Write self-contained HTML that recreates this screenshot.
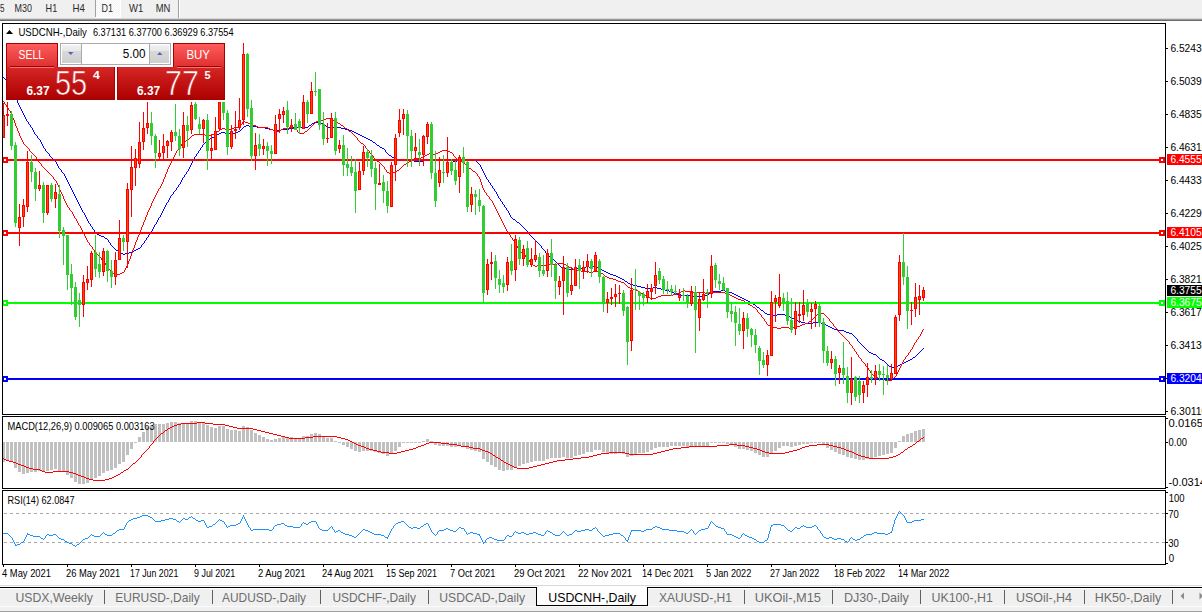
<!DOCTYPE html>
<html><head><meta charset="utf-8"><title>MT4 USDCNH Daily</title>
<style>
html,body{margin:0;padding:0;background:#fff;width:1202px;height:613px;overflow:hidden}
svg{display:block;font-family:"Liberation Sans",sans-serif}
.c{shape-rendering:crispEdges}
</style></head><body>
<svg width="1202" height="613" viewBox="0 0 1202 613">
<defs>
<linearGradient id="gTop" x1="0" y1="0" x2="0" y2="1"><stop offset="0" stop-color="#ff5c5c"/><stop offset="1" stop-color="#de2f2f"/></linearGradient>
<linearGradient id="gBot" x1="0" y1="0" x2="0" y2="1"><stop offset="0" stop-color="#d62626"/><stop offset="1" stop-color="#ad0000"/></linearGradient>
<linearGradient id="gBotU" gradientUnits="userSpaceOnUse" x1="0" y1="67" x2="0" y2="99"><stop offset="0" stop-color="#d62626"/><stop offset="1" stop-color="#ad0000"/></linearGradient>
<linearGradient id="gBtn" x1="0" y1="0" x2="0" y2="1"><stop offset="0" stop-color="#f2f2f2"/><stop offset="0.35" stop-color="#e6e6e6"/><stop offset="0.36" stop-color="#d8d8d8"/><stop offset="1" stop-color="#cfcfcf"/></linearGradient>
<pattern id="dots" width="2" height="2" patternUnits="userSpaceOnUse"><rect width="2" height="2" fill="#f4f4f4"/><rect width="1" height="1" fill="#ffffff"/><rect x="1" y="1" width="1" height="1" fill="#ffffff"/></pattern>
<clipPath id="clipMain"><rect x="3" y="24" width="1162" height="390"/></clipPath>
<clipPath id="clipMacd"><rect x="3" y="417" width="1162" height="71"/></clipPath>
<clipPath id="clipRsi"><rect x="3" y="491" width="1162" height="73"/></clipPath>
</defs>

<g class="c">
<rect x="0" y="0" width="1202" height="19" fill="#f0f0f0"/>
<rect x="0" y="18" width="1202" height="1" fill="#d6d6d6"/>
<rect x="0" y="19" width="1202" height="1" fill="#999999"/>
<rect x="0" y="20" width="1202" height="1" fill="#6c6c6c"/>
<rect x="96" y="0" width="24" height="17" fill="url(#dots)"/><rect x="95" y="17" width="26" height="1" fill="#fff"/><rect x="120" y="0" width="1" height="17" fill="#fff"/>
<rect x="95" y="0" width="1" height="17" fill="#a0a0a0"/>
<rect x="178" y="0" width="1" height="18" fill="#a0a0a0"/><rect x="179" y="0" width="1" height="18" fill="#ffffff"/>
</g>
<text x="0" y="11.6" font-size="10.2" fill="#2a2a2a" font-weight="400" text-anchor="start" textLength="4.5" lengthAdjust="spacingAndGlyphs" >5</text>
<text x="14.6" y="11.6" font-size="10.2" fill="#2a2a2a" font-weight="400" text-anchor="start" textLength="17.4" lengthAdjust="spacingAndGlyphs" >M30</text>
<text x="45.6" y="11.6" font-size="10.2" fill="#2a2a2a" font-weight="400" text-anchor="start" textLength="11.6" lengthAdjust="spacingAndGlyphs" >H1</text>
<text x="72.6" y="11.6" font-size="10.2" fill="#2a2a2a" font-weight="400" text-anchor="start" textLength="12.4" lengthAdjust="spacingAndGlyphs" >H4</text>
<text x="101.6" y="11.6" font-size="10.2" fill="#2a2a2a" font-weight="400" text-anchor="start" textLength="11.4" lengthAdjust="spacingAndGlyphs" >D1</text>
<text x="129" y="11.6" font-size="10.2" fill="#2a2a2a" font-weight="400" text-anchor="start" textLength="14.2" lengthAdjust="spacingAndGlyphs" >W1</text>
<text x="155.7" y="11.6" font-size="10.2" fill="#2a2a2a" font-weight="400" text-anchor="start" textLength="14.6" lengthAdjust="spacingAndGlyphs" >MN</text>
<g class="c" fill="none" stroke="#000" stroke-width="1">
<rect x="2.5" y="23.5" width="1163" height="391"/>
<rect x="2.5" y="416.5" width="1163" height="72"/>
<rect x="2.5" y="490.5" width="1163" height="74"/>
</g>
<g class="c">
<rect x="1166" y="48" width="2" height="1" fill="#000"/>
<rect x="1166" y="81" width="2" height="1" fill="#000"/>
<rect x="1166" y="114" width="2" height="1" fill="#000"/>
<rect x="1166" y="147" width="2" height="1" fill="#000"/>
<rect x="1166" y="180" width="2" height="1" fill="#000"/>
<rect x="1166" y="213" width="2" height="1" fill="#000"/>
<rect x="1166" y="246" width="2" height="1" fill="#000"/>
<rect x="1166" y="279" width="2" height="1" fill="#000"/>
<rect x="1166" y="312" width="2" height="1" fill="#000"/>
<rect x="1166" y="345" width="2" height="1" fill="#000"/>
<rect x="1166" y="378" width="2" height="1" fill="#000"/>
<rect x="1166" y="411" width="2" height="1" fill="#000"/>
</g>
<text x="1170.4" y="52" font-size="10.1" fill="#000" font-weight="400" text-anchor="start" textLength="37" lengthAdjust="spacingAndGlyphs" >6.52430</text>
<text x="1170.4" y="85" font-size="10.1" fill="#000" font-weight="400" text-anchor="start" textLength="37" lengthAdjust="spacingAndGlyphs" >6.50390</text>
<text x="1170.4" y="118" font-size="10.1" fill="#000" font-weight="400" text-anchor="start" textLength="37" lengthAdjust="spacingAndGlyphs" >6.48350</text>
<text x="1170.4" y="151" font-size="10.1" fill="#000" font-weight="400" text-anchor="start" textLength="37" lengthAdjust="spacingAndGlyphs" >6.46310</text>
<text x="1170.4" y="184" font-size="10.1" fill="#000" font-weight="400" text-anchor="start" textLength="37" lengthAdjust="spacingAndGlyphs" >6.44330</text>
<text x="1170.4" y="217" font-size="10.1" fill="#000" font-weight="400" text-anchor="start" textLength="37" lengthAdjust="spacingAndGlyphs" >6.42290</text>
<text x="1170.4" y="250" font-size="10.1" fill="#000" font-weight="400" text-anchor="start" textLength="37" lengthAdjust="spacingAndGlyphs" >6.40250</text>
<text x="1170.4" y="283" font-size="10.1" fill="#000" font-weight="400" text-anchor="start" textLength="37" lengthAdjust="spacingAndGlyphs" >6.38210</text>
<text x="1170.4" y="316" font-size="10.1" fill="#000" font-weight="400" text-anchor="start" textLength="37" lengthAdjust="spacingAndGlyphs" >6.36170</text>
<text x="1170.4" y="349" font-size="10.1" fill="#000" font-weight="400" text-anchor="start" textLength="37" lengthAdjust="spacingAndGlyphs" >6.34130</text>
<text x="1170.4" y="382" font-size="10.1" fill="#000" font-weight="400" text-anchor="start" textLength="37" lengthAdjust="spacingAndGlyphs" >6.32090</text>
<text x="1170.4" y="415" font-size="10.1" fill="#000" font-weight="400" text-anchor="start" textLength="37" lengthAdjust="spacingAndGlyphs" >6.30110</text>
<g clip-path="url(#clipMain)">
<path class="c" fill="#0000ff" d="M3 77h1v1h-1zM4 78h1v1h-1zM5 79h1v1h-1zM6 80h1v1h-1zM7 81h1v1h-1zM8 82h1v2h-1zM9 84h1v1h-1zM10 85h1v2h-1zM11 87h1v2h-1zM12 89h1v2h-1zM13 91h1v2h-1zM14 93h1v2h-1zM15 95h1v3h-1zM16 98h1v2h-1zM17 100h1v3h-1zM18 103h1v2h-1zM19 105h1v2h-1zM20 107h1v2h-1zM21 109h1v2h-1zM22 111h1v2h-1zM23 113h1v2h-1zM24 115h1v2h-1zM25 117h1v2h-1zM26 119h1v2h-1zM27 121h1v1h-1zM28 122h1v2h-1zM29 124h1v1h-1zM30 125h1v2h-1zM31 127h1v1h-1zM32 128h1v2h-1zM33 130h1v2h-1zM34 132h1v2h-1zM35 134h1v1h-1zM36 135h1v1h-1zM37 136h1v2h-1zM38 138h1v1h-1zM39 139h1v1h-1zM40 140h1v2h-1zM41 142h1v2h-1zM42 144h1v2h-1zM43 146h1v2h-1zM44 148h1v1h-1zM45 149h1v2h-1zM46 151h1v1h-1zM47 152h1v1h-1zM48 153h1v1h-1zM49 154h1v2h-1zM50 156h1v1h-1zM51 157h1v1h-1zM52 158h1v1h-1zM53 159h1v1h-1zM54 160h1v1h-1zM55 161h1v1h-1zM56 162h1v2h-1zM57 164h1v2h-1zM58 166h1v2h-1zM59 168h1v1h-1zM60 169h1v1h-1zM61 170h1v2h-1zM62 172h1v1h-1zM63 173h1v1h-1zM64 174h1v2h-1zM65 176h1v2h-1zM66 178h1v2h-1zM67 180h1v2h-1zM68 182h1v2h-1zM69 184h1v2h-1zM70 186h1v2h-1zM71 188h1v2h-1zM72 190h1v2h-1zM73 192h1v2h-1zM74 194h1v2h-1zM75 196h1v2h-1zM76 198h1v2h-1zM77 200h1v2h-1zM78 202h1v2h-1zM79 204h1v2h-1zM80 206h1v2h-1zM81 208h1v2h-1zM82 210h1v2h-1zM83 212h1v1h-1zM84 213h1v2h-1zM85 215h1v2h-1zM86 217h1v2h-1zM87 219h1v2h-1zM88 221h1v2h-1zM89 223h1v1h-1zM90 224h1v2h-1zM91 226h1v1h-1zM92 227h1v2h-1zM93 229h1v1h-1zM94 230h1v2h-1zM95 232h1v1h-1zM96 233h1v1h-1zM97 234h1v1h-1zM98 234h1v1h-1zM99 235h1v1h-1zM100 235h1v1h-1zM101 236h1v1h-1zM102 236h1v1h-1zM103 236h1v1h-1zM104 237h1v1h-1zM105 238h1v1h-1zM106 238h1v1h-1zM107 239h1v1h-1zM108 240h1v2h-1zM109 242h1v1h-1zM110 243h1v2h-1zM111 245h1v1h-1zM112 246h1v1h-1zM113 247h1v1h-1zM114 248h1v1h-1zM115 249h1v1h-1zM116 250h1v1h-1zM117 250h1v1h-1zM118 251h1v1h-1zM119 251h1v1h-1zM120 252h1v1h-1zM121 253h1v1h-1zM122 253h1v1h-1zM123 254h1v1h-1zM124 254h1v1h-1zM125 253h1v1h-1zM126 253h1v1h-1zM127 253h1v1h-1zM128 253h1v1h-1zM129 252h1v1h-1zM130 252h1v1h-1zM131 252h1v1h-1zM132 251h1v1h-1zM133 251h1v1h-1zM134 250h1v1h-1zM135 250h1v1h-1zM136 249h1v1h-1zM137 249h1v1h-1zM138 248h1v1h-1zM139 248h1v1h-1zM140 247h1v1h-1zM141 245h1v2h-1zM142 244h1v1h-1zM143 243h1v1h-1zM144 241h1v2h-1zM145 240h1v1h-1zM146 238h1v2h-1zM147 237h1v1h-1zM148 235h1v2h-1zM149 234h1v1h-1zM150 232h1v2h-1zM151 231h1v1h-1zM152 229h1v2h-1zM153 227h1v2h-1zM154 225h1v2h-1zM155 224h1v1h-1zM156 222h1v2h-1zM157 220h1v2h-1zM158 218h1v2h-1zM159 217h1v1h-1zM160 215h1v2h-1zM161 213h1v2h-1zM162 211h1v2h-1zM163 209h1v2h-1zM164 207h1v2h-1zM165 205h1v2h-1zM166 203h1v2h-1zM167 202h1v1h-1zM168 200h1v2h-1zM169 198h1v2h-1zM170 196h1v2h-1zM171 195h1v1h-1zM172 194h1v1h-1zM173 192h1v2h-1zM174 191h1v1h-1zM175 190h1v1h-1zM176 188h1v2h-1zM177 187h1v1h-1zM178 185h1v2h-1zM179 184h1v1h-1zM180 182h1v2h-1zM181 180h1v2h-1zM182 178h1v2h-1zM183 177h1v1h-1zM184 175h1v2h-1zM185 174h1v1h-1zM186 172h1v2h-1zM187 171h1v1h-1zM188 169h1v2h-1zM189 167h1v2h-1zM190 165h1v2h-1zM191 163h1v2h-1zM192 161h1v2h-1zM193 159h1v2h-1zM194 157h1v2h-1zM195 156h1v1h-1zM196 154h1v2h-1zM197 153h1v1h-1zM198 151h1v2h-1zM199 150h1v1h-1zM200 148h1v2h-1zM201 147h1v1h-1zM202 145h1v2h-1zM203 144h1v1h-1zM204 143h1v1h-1zM205 142h1v1h-1zM206 141h1v1h-1zM207 140h1v1h-1zM208 139h1v1h-1zM209 139h1v1h-1zM210 138h1v1h-1zM211 138h1v1h-1zM212 137h1v1h-1zM213 137h1v1h-1zM214 136h1v1h-1zM215 136h1v1h-1zM216 135h1v1h-1zM217 134h1v1h-1zM218 134h1v1h-1zM219 133h1v1h-1zM220 133h1v1h-1zM221 132h1v1h-1zM222 132h1v1h-1zM223 132h1v1h-1zM224 132h1v1h-1zM225 133h1v1h-1zM226 133h1v1h-1zM227 133h1v1h-1zM228 133h1v1h-1zM229 133h1v1h-1zM230 133h1v1h-1zM231 133h1v1h-1zM232 133h1v1h-1zM233 133h1v1h-1zM234 133h1v1h-1zM235 133h1v1h-1zM236 132h1v1h-1zM237 132h1v1h-1zM238 131h1v1h-1zM239 131h1v1h-1zM240 130h1v1h-1zM241 129h1v1h-1zM242 128h1v1h-1zM243 127h1v1h-1zM244 126h1v1h-1zM245 126h1v1h-1zM246 125h1v1h-1zM247 125h1v1h-1zM248 125h1v1h-1zM249 126h1v1h-1zM250 126h1v1h-1zM251 126h1v1h-1zM252 126h1v1h-1zM253 126h1v1h-1zM254 126h1v1h-1zM255 126h1v1h-1zM256 126h1v1h-1zM257 127h1v1h-1zM258 127h1v1h-1zM259 127h1v1h-1zM260 127h1v1h-1zM261 127h1v1h-1zM262 127h1v1h-1zM263 127h1v1h-1zM264 127h1v1h-1zM265 128h1v1h-1zM266 128h1v1h-1zM267 128h1v1h-1zM268 128h1v1h-1zM269 129h1v1h-1zM270 129h1v1h-1zM271 129h1v1h-1zM272 129h1v1h-1zM273 130h1v1h-1zM274 130h1v1h-1zM275 130h1v1h-1zM276 130h1v1h-1zM277 130h1v1h-1zM278 130h1v1h-1zM279 130h1v1h-1zM280 130h1v1h-1zM281 129h1v1h-1zM282 129h1v1h-1zM283 129h1v1h-1zM284 129h1v1h-1zM285 129h1v1h-1zM286 129h1v1h-1zM287 129h1v1h-1zM288 129h1v1h-1zM289 128h1v1h-1zM290 128h1v1h-1zM291 128h1v1h-1zM292 128h1v1h-1zM293 127h1v1h-1zM294 127h1v1h-1zM295 127h1v1h-1zM296 127h1v1h-1zM297 127h1v1h-1zM298 127h1v1h-1zM299 127h1v1h-1zM300 127h1v1h-1zM301 127h1v1h-1zM302 127h1v1h-1zM303 127h1v1h-1zM304 127h1v1h-1zM305 127h1v1h-1zM306 127h1v1h-1zM307 127h1v1h-1zM308 126h1v1h-1zM309 125h1v1h-1zM310 125h1v1h-1zM311 124h1v1h-1zM312 123h1v1h-1zM313 123h1v1h-1zM314 122h1v1h-1zM315 122h1v1h-1zM316 122h1v1h-1zM317 122h1v1h-1zM318 122h1v1h-1zM319 122h1v1h-1zM320 122h1v1h-1zM321 123h1v1h-1zM322 123h1v1h-1zM323 123h1v1h-1zM324 124h1v1h-1zM325 125h1v1h-1zM326 126h1v1h-1zM327 127h1v1h-1zM328 127h1v1h-1zM329 127h1v1h-1zM330 127h1v1h-1zM331 127h1v1h-1zM332 127h1v1h-1zM333 127h1v1h-1zM334 127h1v1h-1zM335 127h1v1h-1zM336 127h1v1h-1zM337 127h1v1h-1zM338 127h1v1h-1zM339 127h1v1h-1zM340 127h1v1h-1zM341 128h1v1h-1zM342 128h1v1h-1zM343 128h1v1h-1zM344 128h1v1h-1zM345 129h1v1h-1zM346 129h1v1h-1zM347 129h1v1h-1zM348 129h1v1h-1zM349 130h1v1h-1zM350 130h1v1h-1zM351 130h1v1h-1zM352 131h1v1h-1zM353 131h1v1h-1zM354 132h1v1h-1zM355 132h1v1h-1zM356 133h1v1h-1zM357 133h1v1h-1zM358 134h1v1h-1zM359 134h1v1h-1zM360 135h1v1h-1zM361 135h1v1h-1zM362 136h1v1h-1zM363 136h1v1h-1zM364 137h1v1h-1zM365 137h1v1h-1zM366 138h1v1h-1zM367 138h1v1h-1zM368 139h1v1h-1zM369 139h1v1h-1zM370 140h1v1h-1zM371 140h1v1h-1zM372 141h1v1h-1zM373 142h1v1h-1zM374 142h1v1h-1zM375 143h1v1h-1zM376 144h1v1h-1zM377 145h1v1h-1zM378 145h1v1h-1zM379 146h1v1h-1zM380 147h1v1h-1zM381 147h1v1h-1zM382 148h1v1h-1zM383 148h1v1h-1zM384 149h1v1h-1zM385 150h1v2h-1zM386 152h1v1h-1zM387 153h1v1h-1zM388 154h1v1h-1zM389 155h1v1h-1zM390 155h1v1h-1zM391 156h1v1h-1zM392 157h1v1h-1zM393 157h1v1h-1zM394 158h1v1h-1zM395 158h1v1h-1zM396 158h1v1h-1zM397 159h1v1h-1zM398 159h1v1h-1zM399 159h1v1h-1zM400 159h1v1h-1zM401 159h1v1h-1zM402 159h1v1h-1zM403 159h1v1h-1zM404 159h1v1h-1zM405 159h1v1h-1zM406 159h1v1h-1zM407 159h1v1h-1zM408 159h1v1h-1zM409 159h1v1h-1zM410 159h1v1h-1zM411 159h1v1h-1zM412 160h1v1h-1zM413 160h1v1h-1zM414 161h1v1h-1zM415 161h1v1h-1zM416 161h1v1h-1zM417 161h1v1h-1zM418 161h1v1h-1zM419 161h1v1h-1zM420 161h1v1h-1zM421 161h1v1h-1zM422 161h1v1h-1zM423 161h1v1h-1zM424 160h1v1h-1zM425 160h1v1h-1zM426 159h1v1h-1zM427 159h1v1h-1zM428 159h1v1h-1zM429 159h1v1h-1zM430 159h1v1h-1zM431 159h1v1h-1zM432 159h1v1h-1zM433 160h1v1h-1zM434 160h1v1h-1zM435 160h1v1h-1zM436 160h1v1h-1zM437 159h1v1h-1zM438 159h1v1h-1zM439 159h1v1h-1zM440 159h1v1h-1zM441 159h1v1h-1zM442 159h1v1h-1zM443 159h1v1h-1zM444 159h1v1h-1zM445 160h1v1h-1zM446 160h1v1h-1zM447 160h1v1h-1zM448 160h1v1h-1zM449 160h1v1h-1zM450 160h1v1h-1zM451 160h1v1h-1zM452 160h1v1h-1zM453 161h1v1h-1zM454 161h1v1h-1zM455 161h1v1h-1zM456 161h1v1h-1zM457 160h1v1h-1zM458 160h1v1h-1zM459 160h1v1h-1zM460 160h1v1h-1zM461 159h1v1h-1zM462 159h1v1h-1zM463 159h1v1h-1zM464 159h1v1h-1zM465 159h1v1h-1zM466 159h1v1h-1zM467 159h1v1h-1zM468 159h1v1h-1zM469 159h1v1h-1zM470 159h1v1h-1zM471 159h1v1h-1zM472 159h1v1h-1zM473 160h1v1h-1zM474 160h1v1h-1zM475 160h1v1h-1zM476 161h1v1h-1zM477 162h1v1h-1zM478 163h1v1h-1zM479 164h1v1h-1zM480 165h1v2h-1zM481 167h1v2h-1zM482 169h1v2h-1zM483 171h1v2h-1zM484 173h1v2h-1zM485 175h1v2h-1zM486 177h1v2h-1zM487 179h1v1h-1zM488 180h1v2h-1zM489 182h1v1h-1zM490 183h1v2h-1zM491 185h1v1h-1zM492 186h1v2h-1zM493 188h1v1h-1zM494 189h1v2h-1zM495 191h1v1h-1zM496 192h1v2h-1zM497 194h1v2h-1zM498 196h1v2h-1zM499 198h1v1h-1zM500 199h1v2h-1zM501 201h1v1h-1zM502 202h1v2h-1zM503 204h1v1h-1zM504 205h1v2h-1zM505 207h1v1h-1zM506 208h1v2h-1zM507 210h1v1h-1zM508 211h1v2h-1zM509 213h1v2h-1zM510 215h1v2h-1zM511 217h1v1h-1zM512 218h1v1h-1zM513 219h1v1h-1zM514 219h1v1h-1zM515 220h1v1h-1zM516 221h1v1h-1zM517 222h1v1h-1zM518 222h1v1h-1zM519 223h1v1h-1zM520 224h1v1h-1zM521 225h1v1h-1zM522 226h1v1h-1zM523 227h1v1h-1zM524 228h1v1h-1zM525 229h1v1h-1zM526 230h1v1h-1zM527 231h1v1h-1zM528 232h1v1h-1zM529 233h1v2h-1zM530 235h1v1h-1zM531 236h1v1h-1zM532 237h1v1h-1zM533 238h1v1h-1zM534 239h1v1h-1zM535 240h1v1h-1zM536 241h1v1h-1zM537 242h1v1h-1zM538 243h1v1h-1zM539 244h1v1h-1zM540 245h1v1h-1zM541 246h1v2h-1zM542 248h1v1h-1zM543 249h1v1h-1zM544 250h1v1h-1zM545 251h1v2h-1zM546 253h1v1h-1zM547 254h1v1h-1zM548 255h1v1h-1zM549 256h1v1h-1zM550 256h1v1h-1zM551 257h1v1h-1zM552 258h1v1h-1zM553 259h1v1h-1zM554 260h1v1h-1zM555 261h1v1h-1zM556 262h1v1h-1zM557 263h1v1h-1zM558 264h1v1h-1zM559 265h1v1h-1zM560 266h1v1h-1zM561 267h1v1h-1zM562 267h1v1h-1zM563 268h1v1h-1zM564 268h1v1h-1zM565 268h1v1h-1zM566 268h1v1h-1zM567 268h1v1h-1zM568 268h1v1h-1zM569 269h1v1h-1zM570 269h1v1h-1zM571 269h1v1h-1zM572 269h1v1h-1zM573 269h1v1h-1zM574 269h1v1h-1zM575 269h1v1h-1zM576 269h1v1h-1zM577 268h1v1h-1zM578 268h1v1h-1zM579 268h1v1h-1zM580 268h1v1h-1zM581 268h1v1h-1zM582 268h1v1h-1zM583 268h1v1h-1zM584 267h1v1h-1zM585 267h1v1h-1zM586 266h1v1h-1zM587 266h1v1h-1zM588 266h1v1h-1zM589 267h1v1h-1zM590 267h1v1h-1zM591 267h1v1h-1zM592 267h1v1h-1zM593 266h1v1h-1zM594 266h1v1h-1zM595 266h1v1h-1zM596 267h1v1h-1zM597 267h1v1h-1zM598 268h1v1h-1zM599 268h1v1h-1zM600 269h1v1h-1zM601 269h1v1h-1zM602 270h1v1h-1zM603 270h1v1h-1zM604 271h1v1h-1zM605 271h1v1h-1zM606 272h1v1h-1zM607 272h1v1h-1zM608 273h1v1h-1zM609 273h1v1h-1zM610 274h1v1h-1zM611 274h1v1h-1zM612 274h1v1h-1zM613 275h1v1h-1zM614 275h1v1h-1zM615 275h1v1h-1zM616 276h1v1h-1zM617 276h1v1h-1zM618 277h1v1h-1zM619 277h1v1h-1zM620 278h1v1h-1zM621 278h1v1h-1zM622 279h1v1h-1zM623 279h1v1h-1zM624 280h1v1h-1zM625 281h1v1h-1zM626 281h1v1h-1zM627 282h1v1h-1zM628 283h1v1h-1zM629 283h1v1h-1zM630 284h1v1h-1zM631 284h1v1h-1zM632 284h1v1h-1zM633 285h1v1h-1zM634 285h1v1h-1zM635 285h1v1h-1zM636 285h1v1h-1zM637 286h1v1h-1zM638 286h1v1h-1zM639 286h1v1h-1zM640 286h1v1h-1zM641 287h1v1h-1zM642 287h1v1h-1zM643 287h1v1h-1zM644 287h1v1h-1zM645 288h1v1h-1zM646 288h1v1h-1zM647 288h1v1h-1zM648 288h1v1h-1zM649 288h1v1h-1zM650 288h1v1h-1zM651 288h1v1h-1zM652 288h1v1h-1zM653 287h1v1h-1zM654 287h1v1h-1zM655 287h1v1h-1zM656 287h1v1h-1zM657 288h1v1h-1zM658 288h1v1h-1zM659 288h1v1h-1zM660 288h1v1h-1zM661 289h1v1h-1zM662 289h1v1h-1zM663 289h1v1h-1zM664 289h1v1h-1zM665 290h1v1h-1zM666 290h1v1h-1zM667 290h1v1h-1zM668 290h1v1h-1zM669 291h1v1h-1zM670 291h1v1h-1zM671 291h1v1h-1zM672 292h1v1h-1zM673 292h1v1h-1zM674 293h1v1h-1zM675 293h1v1h-1zM676 293h1v1h-1zM677 294h1v1h-1zM678 294h1v1h-1zM679 294h1v1h-1zM680 294h1v1h-1zM681 295h1v1h-1zM682 295h1v1h-1zM683 295h1v1h-1zM684 295h1v1h-1zM685 295h1v1h-1zM686 295h1v1h-1zM687 295h1v1h-1zM688 295h1v1h-1zM689 295h1v1h-1zM690 295h1v1h-1zM691 295h1v1h-1zM692 295h1v1h-1zM693 296h1v1h-1zM694 296h1v1h-1zM695 296h1v1h-1zM696 296h1v1h-1zM697 296h1v1h-1zM698 296h1v1h-1zM699 296h1v1h-1zM700 296h1v1h-1zM701 296h1v1h-1zM702 296h1v1h-1zM703 296h1v1h-1zM704 296h1v1h-1zM705 295h1v1h-1zM706 295h1v1h-1zM707 295h1v1h-1zM708 294h1v1h-1zM709 293h1v1h-1zM710 292h1v1h-1zM711 291h1v1h-1zM712 291h1v1h-1zM713 291h1v1h-1zM714 291h1v1h-1zM715 291h1v1h-1zM716 291h1v1h-1zM717 291h1v1h-1zM718 291h1v1h-1zM719 291h1v1h-1zM720 291h1v1h-1zM721 290h1v1h-1zM722 290h1v1h-1zM723 290h1v1h-1zM724 290h1v1h-1zM725 291h1v1h-1zM726 291h1v1h-1zM727 291h1v1h-1zM728 291h1v1h-1zM729 292h1v1h-1zM730 292h1v1h-1zM731 292h1v1h-1zM732 293h1v1h-1zM733 293h1v1h-1zM734 294h1v1h-1zM735 294h1v1h-1zM736 295h1v1h-1zM737 295h1v1h-1zM738 296h1v1h-1zM739 296h1v1h-1zM740 297h1v1h-1zM741 297h1v1h-1zM742 298h1v1h-1zM743 298h1v1h-1zM744 299h1v1h-1zM745 299h1v1h-1zM746 300h1v1h-1zM747 300h1v1h-1zM748 301h1v1h-1zM749 301h1v1h-1zM750 302h1v1h-1zM751 302h1v1h-1zM752 303h1v1h-1zM753 304h1v1h-1zM754 304h1v1h-1zM755 305h1v1h-1zM756 306h1v1h-1zM757 307h1v1h-1zM758 307h1v1h-1zM759 308h1v1h-1zM760 309h1v1h-1zM761 310h1v1h-1zM762 310h1v1h-1zM763 311h1v1h-1zM764 312h1v1h-1zM765 313h1v1h-1zM766 313h1v1h-1zM767 314h1v1h-1zM768 314h1v1h-1zM769 314h1v1h-1zM770 314h1v1h-1zM771 314h1v1h-1zM772 314h1v1h-1zM773 315h1v1h-1zM774 315h1v1h-1zM775 315h1v1h-1zM776 315h1v1h-1zM777 314h1v1h-1zM778 314h1v1h-1zM779 314h1v1h-1zM780 314h1v1h-1zM781 314h1v1h-1zM782 314h1v1h-1zM783 314h1v1h-1zM784 314h1v1h-1zM785 315h1v1h-1zM786 315h1v1h-1zM787 315h1v1h-1zM788 316h1v1h-1zM789 316h1v1h-1zM790 317h1v1h-1zM791 317h1v1h-1zM792 318h1v1h-1zM793 318h1v1h-1zM794 319h1v1h-1zM795 319h1v1h-1zM796 320h1v1h-1zM797 320h1v1h-1zM798 321h1v1h-1zM799 321h1v1h-1zM800 321h1v1h-1zM801 322h1v1h-1zM802 322h1v1h-1zM803 322h1v1h-1zM804 322h1v1h-1zM805 323h1v1h-1zM806 323h1v1h-1zM807 323h1v1h-1zM808 323h1v1h-1zM809 323h1v1h-1zM810 323h1v1h-1zM811 323h1v1h-1zM812 323h1v1h-1zM813 322h1v1h-1zM814 322h1v1h-1zM815 322h1v1h-1zM816 322h1v1h-1zM817 322h1v1h-1zM818 322h1v1h-1zM819 322h1v1h-1zM820 322h1v1h-1zM821 323h1v1h-1zM822 323h1v1h-1zM823 323h1v1h-1zM824 324h1v1h-1zM825 324h1v1h-1zM826 325h1v1h-1zM827 325h1v1h-1zM828 326h1v1h-1zM829 326h1v1h-1zM830 327h1v1h-1zM831 327h1v1h-1zM832 328h1v1h-1zM833 328h1v1h-1zM834 329h1v1h-1zM835 329h1v1h-1zM836 329h1v1h-1zM837 330h1v1h-1zM838 330h1v1h-1zM839 330h1v1h-1zM840 330h1v1h-1zM841 330h1v1h-1zM842 330h1v1h-1zM843 330h1v1h-1zM844 331h1v1h-1zM845 331h1v1h-1zM846 332h1v1h-1zM847 332h1v1h-1zM848 332h1v1h-1zM849 333h1v1h-1zM850 333h1v1h-1zM851 333h1v1h-1zM852 334h1v1h-1zM853 335h1v1h-1zM854 336h1v1h-1zM855 337h1v1h-1zM856 338h1v1h-1zM857 339h1v2h-1zM858 341h1v1h-1zM859 342h1v1h-1zM860 343h1v1h-1zM861 344h1v1h-1zM862 345h1v1h-1zM863 346h1v1h-1zM864 347h1v1h-1zM865 348h1v1h-1zM866 349h1v1h-1zM867 350h1v1h-1zM868 351h1v1h-1zM869 352h1v1h-1zM870 352h1v1h-1zM871 353h1v1h-1zM872 353h1v1h-1zM873 354h1v1h-1zM874 354h1v1h-1zM875 354h1v1h-1zM876 355h1v1h-1zM877 356h1v1h-1zM878 357h1v1h-1zM879 358h1v1h-1zM880 359h1v1h-1zM881 359h1v1h-1zM882 360h1v1h-1zM883 360h1v1h-1zM884 361h1v1h-1zM885 362h1v1h-1zM886 363h1v1h-1zM887 364h1v1h-1zM888 365h1v1h-1zM889 366h1v1h-1zM890 366h1v1h-1zM891 367h1v1h-1zM892 367h1v1h-1zM893 367h1v1h-1zM894 367h1v1h-1zM895 367h1v1h-1zM896 366h1v1h-1zM897 366h1v1h-1zM898 365h1v1h-1zM899 365h1v1h-1zM900 364h1v1h-1zM901 364h1v1h-1zM902 363h1v1h-1zM903 363h1v1h-1zM904 362h1v1h-1zM905 362h1v1h-1zM906 361h1v1h-1zM907 361h1v1h-1zM908 360h1v1h-1zM909 360h1v1h-1zM910 359h1v1h-1zM911 359h1v1h-1zM912 358h1v1h-1zM913 357h1v1h-1zM914 357h1v1h-1zM915 356h1v1h-1zM916 355h1v1h-1zM917 354h1v1h-1zM918 353h1v1h-1zM919 352h1v1h-1zM920 351h1v1h-1zM921 350h1v1h-1zM922 349h1v1h-1zM923 348h1v1h-1z"/>
<path class="c" fill="#ff0000" d="M3 101h1v1h-1zM4 102h1v2h-1zM5 104h1v1h-1zM6 105h1v2h-1zM7 107h1v1h-1zM8 108h1v2h-1zM9 110h1v1h-1zM10 111h1v2h-1zM11 113h1v2h-1zM12 115h1v3h-1zM13 118h1v2h-1zM14 120h1v3h-1zM15 123h1v3h-1zM16 126h1v2h-1zM17 128h1v3h-1zM18 131h1v2h-1zM19 133h1v3h-1zM20 136h1v2h-1zM21 138h1v2h-1zM22 140h1v2h-1zM23 142h1v2h-1zM24 144h1v1h-1zM25 145h1v1h-1zM26 146h1v1h-1zM27 147h1v1h-1zM28 148h1v1h-1zM29 149h1v2h-1zM30 151h1v1h-1zM31 152h1v1h-1zM32 153h1v1h-1zM33 154h1v1h-1zM34 155h1v1h-1zM35 156h1v1h-1zM36 157h1v2h-1zM37 159h1v1h-1zM38 160h1v2h-1zM39 162h1v1h-1zM40 163h1v1h-1zM41 164h1v2h-1zM42 166h1v1h-1zM43 167h1v1h-1zM44 168h1v1h-1zM45 169h1v1h-1zM46 170h1v1h-1zM47 171h1v1h-1zM48 172h1v1h-1zM49 173h1v1h-1zM50 174h1v1h-1zM51 175h1v1h-1zM52 176h1v1h-1zM53 177h1v2h-1zM54 179h1v1h-1zM55 180h1v1h-1zM56 181h1v2h-1zM57 183h1v2h-1zM58 185h1v2h-1zM59 187h1v3h-1zM60 190h1v2h-1zM61 192h1v2h-1zM62 194h1v2h-1zM63 196h1v3h-1zM64 199h1v2h-1zM65 201h1v2h-1zM66 203h1v2h-1zM67 205h1v2h-1zM68 207h1v1h-1zM69 208h1v2h-1zM70 210h1v1h-1zM71 211h1v1h-1zM72 212h1v2h-1zM73 214h1v2h-1zM74 216h1v2h-1zM75 218h1v1h-1zM76 219h1v2h-1zM77 221h1v2h-1zM78 223h1v2h-1zM79 225h1v1h-1zM80 226h1v2h-1zM81 228h1v2h-1zM82 230h1v2h-1zM83 232h1v2h-1zM84 234h1v2h-1zM85 236h1v2h-1zM86 238h1v2h-1zM87 240h1v2h-1zM88 242h1v1h-1zM89 243h1v2h-1zM90 245h1v1h-1zM91 246h1v1h-1zM92 247h1v2h-1zM93 249h1v1h-1zM94 250h1v2h-1zM95 252h1v1h-1zM96 253h1v1h-1zM97 254h1v1h-1zM98 255h1v1h-1zM99 256h1v1h-1zM100 257h1v1h-1zM101 258h1v2h-1zM102 260h1v1h-1zM103 261h1v1h-1zM104 262h1v1h-1zM105 263h1v2h-1zM106 265h1v1h-1zM107 266h1v1h-1zM108 267h1v2h-1zM109 269h1v1h-1zM110 270h1v2h-1zM111 272h1v1h-1zM112 273h1v1h-1zM113 273h1v1h-1zM114 274h1v1h-1zM115 274h1v1h-1zM116 274h1v1h-1zM117 274h1v1h-1zM118 274h1v1h-1zM119 274h1v1h-1zM120 273h1v1h-1zM121 273h1v1h-1zM122 272h1v1h-1zM123 272h1v1h-1zM124 270h1v2h-1zM125 268h1v2h-1zM126 266h1v2h-1zM127 264h1v2h-1zM128 261h1v3h-1zM129 259h1v2h-1zM130 256h1v3h-1zM131 253h1v3h-1zM132 250h1v3h-1zM133 248h1v2h-1zM134 245h1v3h-1zM135 242h1v3h-1zM136 240h1v2h-1zM137 237h1v3h-1zM138 235h1v2h-1zM139 232h1v3h-1zM140 230h1v2h-1zM141 227h1v3h-1zM142 225h1v2h-1zM143 222h1v3h-1zM144 220h1v2h-1zM145 217h1v3h-1zM146 215h1v2h-1zM147 212h1v3h-1zM148 210h1v2h-1zM149 208h1v2h-1zM150 206h1v2h-1zM151 203h1v3h-1zM152 201h1v2h-1zM153 199h1v2h-1zM154 197h1v2h-1zM155 195h1v2h-1zM156 193h1v2h-1zM157 191h1v2h-1zM158 189h1v2h-1zM159 188h1v1h-1zM160 186h1v2h-1zM161 184h1v2h-1zM162 182h1v2h-1zM163 179h1v3h-1zM164 177h1v2h-1zM165 174h1v3h-1zM166 172h1v2h-1zM167 169h1v3h-1zM168 167h1v2h-1zM169 165h1v2h-1zM170 163h1v2h-1zM171 161h1v2h-1zM172 159h1v2h-1zM173 157h1v2h-1zM174 155h1v2h-1zM175 153h1v2h-1zM176 151h1v2h-1zM177 150h1v1h-1zM178 148h1v2h-1zM179 147h1v1h-1zM180 146h1v1h-1zM181 144h1v2h-1zM182 143h1v1h-1zM183 142h1v1h-1zM184 141h1v1h-1zM185 141h1v1h-1zM186 140h1v1h-1zM187 140h1v1h-1zM188 139h1v1h-1zM189 138h1v1h-1zM190 137h1v1h-1zM191 136h1v1h-1zM192 135h1v1h-1zM193 135h1v1h-1zM194 134h1v1h-1zM195 134h1v1h-1zM196 134h1v1h-1zM197 134h1v1h-1zM198 134h1v1h-1zM199 134h1v1h-1zM200 134h1v1h-1zM201 134h1v1h-1zM202 134h1v1h-1zM203 134h1v1h-1zM204 134h1v1h-1zM205 135h1v1h-1zM206 135h1v1h-1zM207 135h1v1h-1zM208 135h1v1h-1zM209 135h1v1h-1zM210 135h1v1h-1zM211 135h1v1h-1zM212 134h1v1h-1zM213 134h1v1h-1zM214 133h1v1h-1zM215 133h1v1h-1zM216 132h1v1h-1zM217 131h1v1h-1zM218 131h1v1h-1zM219 130h1v1h-1zM220 129h1v1h-1zM221 129h1v1h-1zM222 128h1v1h-1zM223 128h1v1h-1zM224 128h1v1h-1zM225 129h1v1h-1zM226 129h1v1h-1zM227 129h1v1h-1zM228 129h1v1h-1zM229 129h1v1h-1zM230 129h1v1h-1zM231 129h1v1h-1zM232 128h1v1h-1zM233 128h1v1h-1zM234 127h1v1h-1zM235 127h1v1h-1zM236 127h1v1h-1zM237 127h1v1h-1zM238 127h1v1h-1zM239 127h1v1h-1zM240 125h1v2h-1zM241 124h1v1h-1zM242 122h1v2h-1zM243 121h1v1h-1zM244 121h1v1h-1zM245 122h1v1h-1zM246 122h1v1h-1zM247 122h1v1h-1zM248 123h1v1h-1zM249 123h1v1h-1zM250 124h1v1h-1zM251 124h1v1h-1zM252 124h1v1h-1zM253 125h1v1h-1zM254 125h1v1h-1zM255 125h1v1h-1zM256 126h1v1h-1zM257 126h1v1h-1zM258 127h1v1h-1zM259 127h1v1h-1zM260 127h1v1h-1zM261 127h1v1h-1zM262 127h1v1h-1zM263 127h1v1h-1zM264 127h1v1h-1zM265 127h1v1h-1zM266 127h1v1h-1zM267 127h1v1h-1zM268 128h1v1h-1zM269 128h1v1h-1zM270 129h1v1h-1zM271 129h1v1h-1zM272 129h1v1h-1zM273 130h1v1h-1zM274 130h1v1h-1zM275 130h1v1h-1zM276 130h1v1h-1zM277 131h1v1h-1zM278 131h1v1h-1zM279 131h1v1h-1zM280 130h1v1h-1zM281 129h1v1h-1zM282 129h1v1h-1zM283 128h1v1h-1zM284 128h1v1h-1zM285 128h1v1h-1zM286 128h1v1h-1zM287 128h1v1h-1zM288 128h1v1h-1zM289 127h1v1h-1zM290 127h1v1h-1zM291 127h1v1h-1zM292 127h1v1h-1zM293 128h1v1h-1zM294 128h1v1h-1zM295 128h1v1h-1zM296 129h1v1h-1zM297 130h1v2h-1zM298 132h1v1h-1zM299 133h1v1h-1zM300 133h1v1h-1zM301 133h1v1h-1zM302 133h1v1h-1zM303 133h1v1h-1zM304 132h1v1h-1zM305 131h1v1h-1zM306 131h1v1h-1zM307 130h1v1h-1zM308 129h1v1h-1zM309 128h1v1h-1zM310 127h1v1h-1zM311 126h1v1h-1zM312 125h1v1h-1zM313 124h1v1h-1zM314 123h1v1h-1zM315 122h1v1h-1zM316 121h1v1h-1zM317 121h1v1h-1zM318 120h1v1h-1zM319 120h1v1h-1zM320 120h1v1h-1zM321 120h1v1h-1zM322 120h1v1h-1zM323 120h1v1h-1zM324 119h1v1h-1zM325 119h1v1h-1zM326 118h1v1h-1zM327 118h1v1h-1zM328 118h1v1h-1zM329 118h1v1h-1zM330 118h1v1h-1zM331 118h1v1h-1zM332 119h1v1h-1zM333 120h1v1h-1zM334 120h1v1h-1zM335 121h1v1h-1zM336 122h1v1h-1zM337 122h1v1h-1zM338 123h1v1h-1zM339 123h1v1h-1zM340 124h1v1h-1zM341 125h1v1h-1zM342 125h1v1h-1zM343 126h1v1h-1zM344 127h1v1h-1zM345 128h1v1h-1zM346 128h1v1h-1zM347 129h1v1h-1zM348 130h1v1h-1zM349 131h1v1h-1zM350 131h1v1h-1zM351 132h1v1h-1zM352 133h1v1h-1zM353 134h1v1h-1zM354 135h1v1h-1zM355 136h1v1h-1zM356 137h1v1h-1zM357 138h1v2h-1zM358 140h1v1h-1zM359 141h1v1h-1zM360 142h1v1h-1zM361 143h1v1h-1zM362 143h1v1h-1zM363 144h1v1h-1zM364 145h1v1h-1zM365 146h1v2h-1zM366 148h1v1h-1zM367 149h1v1h-1zM368 150h1v1h-1zM369 151h1v2h-1zM370 153h1v1h-1zM371 154h1v1h-1zM372 155h1v1h-1zM373 156h1v2h-1zM374 158h1v1h-1zM375 159h1v1h-1zM376 160h1v1h-1zM377 161h1v1h-1zM378 161h1v1h-1zM379 162h1v1h-1zM380 163h1v1h-1zM381 164h1v1h-1zM382 165h1v1h-1zM383 166h1v1h-1zM384 167h1v2h-1zM385 169h1v1h-1zM386 170h1v2h-1zM387 172h1v1h-1zM388 172h1v1h-1zM389 173h1v1h-1zM390 173h1v1h-1zM391 173h1v1h-1zM392 173h1v1h-1zM393 172h1v1h-1zM394 172h1v1h-1zM395 172h1v1h-1zM396 171h1v1h-1zM397 170h1v1h-1zM398 170h1v1h-1zM399 169h1v1h-1zM400 168h1v1h-1zM401 167h1v1h-1zM402 166h1v1h-1zM403 165h1v1h-1zM404 164h1v1h-1zM405 164h1v1h-1zM406 163h1v1h-1zM407 163h1v1h-1zM408 162h1v1h-1zM409 161h1v1h-1zM410 161h1v1h-1zM411 160h1v1h-1zM412 159h1v1h-1zM413 159h1v1h-1zM414 158h1v1h-1zM415 158h1v1h-1zM416 158h1v1h-1zM417 158h1v1h-1zM418 158h1v1h-1zM419 158h1v1h-1zM420 158h1v1h-1zM421 157h1v1h-1zM422 157h1v1h-1zM423 157h1v1h-1zM424 156h1v1h-1zM425 155h1v1h-1zM426 155h1v1h-1zM427 154h1v1h-1zM428 154h1v1h-1zM429 153h1v1h-1zM430 153h1v1h-1zM431 153h1v1h-1zM432 153h1v1h-1zM433 154h1v1h-1zM434 154h1v1h-1zM435 154h1v1h-1zM436 153h1v1h-1zM437 153h1v1h-1zM438 152h1v1h-1zM439 152h1v1h-1zM440 151h1v1h-1zM441 151h1v1h-1zM442 150h1v1h-1zM443 150h1v1h-1zM444 150h1v1h-1zM445 150h1v1h-1zM446 150h1v1h-1zM447 150h1v1h-1zM448 151h1v1h-1zM449 151h1v1h-1zM450 152h1v1h-1zM451 152h1v1h-1zM452 153h1v1h-1zM453 154h1v2h-1zM454 156h1v1h-1zM455 157h1v1h-1zM456 158h1v1h-1zM457 159h1v1h-1zM458 159h1v1h-1zM459 160h1v1h-1zM460 161h1v1h-1zM461 161h1v1h-1zM462 162h1v1h-1zM463 162h1v1h-1zM464 163h1v1h-1zM465 164h1v1h-1zM466 165h1v1h-1zM467 166h1v1h-1zM468 167h1v1h-1zM469 168h1v1h-1zM470 168h1v1h-1zM471 169h1v1h-1zM472 170h1v1h-1zM473 171h1v1h-1zM474 171h1v1h-1zM475 172h1v1h-1zM476 173h1v1h-1zM477 174h1v2h-1zM478 176h1v1h-1zM479 177h1v2h-1zM480 179h1v3h-1zM481 182h1v3h-1zM482 185h1v3h-1zM483 188h1v2h-1zM484 190h1v2h-1zM485 192h1v1h-1zM486 193h1v2h-1zM487 195h1v1h-1zM488 196h1v1h-1zM489 197h1v2h-1zM490 199h1v1h-1zM491 200h1v1h-1zM492 201h1v2h-1zM493 203h1v2h-1zM494 205h1v2h-1zM495 207h1v2h-1zM496 209h1v2h-1zM497 211h1v2h-1zM498 213h1v2h-1zM499 215h1v2h-1zM500 217h1v2h-1zM501 219h1v2h-1zM502 221h1v2h-1zM503 223h1v2h-1zM504 225h1v2h-1zM505 227h1v2h-1zM506 229h1v2h-1zM507 231h1v1h-1zM508 232h1v2h-1zM509 234h1v1h-1zM510 235h1v2h-1zM511 237h1v1h-1zM512 238h1v2h-1zM513 240h1v1h-1zM514 241h1v2h-1zM515 243h1v1h-1zM516 244h1v2h-1zM517 246h1v2h-1zM518 248h1v2h-1zM519 250h1v1h-1zM520 251h1v1h-1zM521 252h1v1h-1zM522 252h1v1h-1zM523 253h1v1h-1zM524 254h1v1h-1zM525 255h1v2h-1zM526 257h1v1h-1zM527 258h1v1h-1zM528 259h1v1h-1zM529 260h1v2h-1zM530 262h1v1h-1zM531 263h1v1h-1zM532 264h1v1h-1zM533 265h1v1h-1zM534 265h1v1h-1zM535 266h1v1h-1zM536 266h1v1h-1zM537 265h1v1h-1zM538 265h1v1h-1zM539 265h1v1h-1zM540 265h1v1h-1zM541 265h1v1h-1zM542 265h1v1h-1zM543 265h1v1h-1zM544 265h1v1h-1zM545 265h1v1h-1zM546 265h1v1h-1zM547 265h1v1h-1zM548 265h1v1h-1zM549 264h1v1h-1zM550 264h1v1h-1zM551 264h1v1h-1zM552 264h1v1h-1zM553 264h1v1h-1zM554 264h1v1h-1zM555 264h1v1h-1zM556 264h1v1h-1zM557 263h1v1h-1zM558 263h1v1h-1zM559 263h1v1h-1zM560 263h1v1h-1zM561 263h1v1h-1zM562 263h1v1h-1zM563 263h1v1h-1zM564 264h1v1h-1zM565 264h1v1h-1zM566 265h1v1h-1zM567 265h1v1h-1zM568 266h1v1h-1zM569 267h1v1h-1zM570 267h1v1h-1zM571 268h1v1h-1zM572 268h1v1h-1zM573 269h1v1h-1zM574 269h1v1h-1zM575 269h1v1h-1zM576 269h1v1h-1zM577 270h1v1h-1zM578 270h1v1h-1zM579 270h1v1h-1zM580 270h1v1h-1zM581 271h1v1h-1zM582 271h1v1h-1zM583 271h1v1h-1zM584 271h1v1h-1zM585 271h1v1h-1zM586 271h1v1h-1zM587 271h1v1h-1zM588 271h1v1h-1zM589 272h1v1h-1zM590 272h1v1h-1zM591 272h1v1h-1zM592 272h1v1h-1zM593 271h1v1h-1zM594 271h1v1h-1zM595 271h1v1h-1zM596 271h1v1h-1zM597 271h1v1h-1zM598 271h1v1h-1zM599 271h1v1h-1zM600 272h1v1h-1zM601 273h1v1h-1zM602 273h1v1h-1zM603 274h1v1h-1zM604 275h1v1h-1zM605 276h1v1h-1zM606 276h1v1h-1zM607 277h1v1h-1zM608 277h1v1h-1zM609 278h1v1h-1zM610 278h1v1h-1zM611 278h1v1h-1zM612 278h1v1h-1zM613 279h1v1h-1zM614 279h1v1h-1zM615 279h1v1h-1zM616 280h1v1h-1zM617 280h1v1h-1zM618 281h1v1h-1zM619 281h1v1h-1zM620 281h1v1h-1zM621 282h1v1h-1zM622 282h1v1h-1zM623 282h1v1h-1zM624 283h1v1h-1zM625 284h1v1h-1zM626 285h1v1h-1zM627 286h1v1h-1zM628 287h1v1h-1zM629 287h1v1h-1zM630 288h1v1h-1zM631 288h1v1h-1zM632 288h1v1h-1zM633 289h1v1h-1zM634 289h1v1h-1zM635 289h1v1h-1zM636 290h1v1h-1zM637 290h1v1h-1zM638 291h1v1h-1zM639 291h1v1h-1zM640 292h1v1h-1zM641 293h1v1h-1zM642 293h1v1h-1zM643 294h1v1h-1zM644 295h1v1h-1zM645 295h1v1h-1zM646 296h1v1h-1zM647 296h1v1h-1zM648 297h1v1h-1zM649 297h1v1h-1zM650 298h1v1h-1zM651 298h1v1h-1zM652 298h1v1h-1zM653 298h1v1h-1zM654 298h1v1h-1zM655 298h1v1h-1zM656 297h1v1h-1zM657 297h1v1h-1zM658 296h1v1h-1zM659 296h1v1h-1zM660 296h1v1h-1zM661 295h1v1h-1zM662 295h1v1h-1zM663 295h1v1h-1zM664 295h1v1h-1zM665 295h1v1h-1zM666 295h1v1h-1zM667 295h1v1h-1zM668 295h1v1h-1zM669 295h1v1h-1zM670 295h1v1h-1zM671 295h1v1h-1zM672 295h1v1h-1zM673 294h1v1h-1zM674 294h1v1h-1zM675 294h1v1h-1zM676 294h1v1h-1zM677 293h1v1h-1zM678 293h1v1h-1zM679 293h1v1h-1zM680 292h1v1h-1zM681 291h1v1h-1zM682 291h1v1h-1zM683 290h1v1h-1zM684 290h1v1h-1zM685 291h1v1h-1zM686 291h1v1h-1zM687 291h1v1h-1zM688 291h1v1h-1zM689 291h1v1h-1zM690 291h1v1h-1zM691 291h1v1h-1zM692 291h1v1h-1zM693 292h1v1h-1zM694 292h1v1h-1zM695 292h1v1h-1zM696 292h1v1h-1zM697 292h1v1h-1zM698 292h1v1h-1zM699 292h1v1h-1zM700 292h1v1h-1zM701 292h1v1h-1zM702 292h1v1h-1zM703 292h1v1h-1zM704 292h1v1h-1zM705 293h1v1h-1zM706 293h1v1h-1zM707 293h1v1h-1zM708 293h1v1h-1zM709 292h1v1h-1zM710 292h1v1h-1zM711 292h1v1h-1zM712 292h1v1h-1zM713 292h1v1h-1zM714 292h1v1h-1zM715 292h1v1h-1zM716 292h1v1h-1zM717 292h1v1h-1zM718 292h1v1h-1zM719 292h1v1h-1zM720 292h1v1h-1zM721 292h1v1h-1zM722 292h1v1h-1zM723 292h1v1h-1zM724 292h1v1h-1zM725 293h1v1h-1zM726 293h1v1h-1zM727 293h1v1h-1zM728 294h1v1h-1zM729 294h1v1h-1zM730 295h1v1h-1zM731 295h1v1h-1zM732 296h1v1h-1zM733 296h1v1h-1zM734 297h1v1h-1zM735 297h1v1h-1zM736 298h1v1h-1zM737 298h1v1h-1zM738 299h1v1h-1zM739 299h1v1h-1zM740 299h1v1h-1zM741 300h1v1h-1zM742 300h1v1h-1zM743 300h1v1h-1zM744 301h1v1h-1zM745 302h1v1h-1zM746 302h1v1h-1zM747 303h1v1h-1zM748 304h1v1h-1zM749 304h1v1h-1zM750 305h1v1h-1zM751 305h1v1h-1zM752 306h1v1h-1zM753 307h1v1h-1zM754 307h1v1h-1zM755 308h1v1h-1zM756 309h1v1h-1zM757 310h1v2h-1zM758 312h1v1h-1zM759 313h1v1h-1zM760 314h1v1h-1zM761 315h1v2h-1zM762 317h1v1h-1zM763 318h1v1h-1zM764 319h1v2h-1zM765 321h1v1h-1zM766 322h1v2h-1zM767 324h1v1h-1zM768 325h1v1h-1zM769 325h1v1h-1zM770 326h1v1h-1zM771 326h1v1h-1zM772 326h1v1h-1zM773 327h1v1h-1zM774 327h1v1h-1zM775 327h1v1h-1zM776 327h1v1h-1zM777 328h1v1h-1zM778 328h1v1h-1zM779 328h1v1h-1zM780 328h1v1h-1zM781 327h1v1h-1zM782 327h1v1h-1zM783 327h1v1h-1zM784 327h1v1h-1zM785 327h1v1h-1zM786 327h1v1h-1zM787 327h1v1h-1zM788 327h1v1h-1zM789 328h1v1h-1zM790 328h1v1h-1zM791 328h1v1h-1zM792 327h1v1h-1zM793 327h1v1h-1zM794 326h1v1h-1zM795 326h1v1h-1zM796 326h1v1h-1zM797 326h1v1h-1zM798 326h1v1h-1zM799 326h1v1h-1zM800 325h1v1h-1zM801 325h1v1h-1zM802 324h1v1h-1zM803 324h1v1h-1zM804 324h1v1h-1zM805 323h1v1h-1zM806 323h1v1h-1zM807 323h1v1h-1zM808 322h1v1h-1zM809 321h1v1h-1zM810 321h1v1h-1zM811 320h1v1h-1zM812 319h1v1h-1zM813 318h1v1h-1zM814 317h1v1h-1zM815 316h1v1h-1zM816 315h1v1h-1zM817 314h1v1h-1zM818 314h1v1h-1zM819 313h1v1h-1zM820 313h1v1h-1zM821 313h1v1h-1zM822 313h1v1h-1zM823 313h1v1h-1zM824 314h1v1h-1zM825 315h1v1h-1zM826 316h1v1h-1zM827 317h1v1h-1zM828 318h1v1h-1zM829 319h1v2h-1zM830 321h1v1h-1zM831 322h1v1h-1zM832 323h1v1h-1zM833 324h1v2h-1zM834 326h1v1h-1zM835 327h1v1h-1zM836 328h1v1h-1zM837 329h1v2h-1zM838 331h1v1h-1zM839 332h1v1h-1zM840 333h1v1h-1zM841 334h1v1h-1zM842 335h1v1h-1zM843 336h1v1h-1zM844 337h1v1h-1zM845 338h1v1h-1zM846 339h1v1h-1zM847 340h1v1h-1zM848 341h1v1h-1zM849 342h1v2h-1zM850 344h1v1h-1zM851 345h1v1h-1zM852 346h1v2h-1zM853 348h1v1h-1zM854 349h1v2h-1zM855 351h1v1h-1zM856 352h1v2h-1zM857 354h1v1h-1zM858 355h1v2h-1zM859 357h1v1h-1zM860 358h1v1h-1zM861 359h1v2h-1zM862 361h1v1h-1zM863 362h1v1h-1zM864 363h1v1h-1zM865 364h1v2h-1zM866 366h1v1h-1zM867 367h1v1h-1zM868 368h1v2h-1zM869 370h1v1h-1zM870 371h1v2h-1zM871 373h1v1h-1zM872 374h1v1h-1zM873 375h1v1h-1zM874 375h1v1h-1zM875 376h1v1h-1zM876 377h1v1h-1zM877 377h1v1h-1zM878 378h1v1h-1zM879 378h1v1h-1zM880 378h1v1h-1zM881 379h1v1h-1zM882 379h1v1h-1zM883 379h1v1h-1zM884 379h1v1h-1zM885 380h1v1h-1zM886 380h1v1h-1zM887 380h1v1h-1zM888 380h1v1h-1zM889 380h1v1h-1zM890 380h1v1h-1zM891 380h1v1h-1zM892 379h1v1h-1zM893 378h1v1h-1zM894 377h1v1h-1zM895 376h1v1h-1zM896 374h1v2h-1zM897 372h1v2h-1zM898 370h1v2h-1zM899 368h1v2h-1zM900 366h1v2h-1zM901 364h1v2h-1zM902 362h1v2h-1zM903 360h1v2h-1zM904 359h1v1h-1zM905 357h1v2h-1zM906 356h1v1h-1zM907 355h1v1h-1zM908 353h1v2h-1zM909 352h1v1h-1zM910 350h1v2h-1zM911 349h1v1h-1zM912 347h1v2h-1zM913 345h1v2h-1zM914 343h1v2h-1zM915 342h1v1h-1zM916 340h1v2h-1zM917 339h1v1h-1zM918 337h1v2h-1zM919 336h1v1h-1zM920 334h1v2h-1zM921 332h1v2h-1zM922 330h1v2h-1zM923 329h1v1h-1z"/>
<g class="c">
<rect x="3" y="159" width="1162" height="2" fill="#ff0000"/>
<rect x="2" y="157" width="6" height="6" fill="#ff0000"/><rect x="4" y="159" width="2" height="2" fill="#fff"/>
<rect x="1159" y="157" width="6" height="6" fill="#ff0000"/><rect x="1161" y="159" width="2" height="2" fill="#fff"/>
<rect x="3" y="232" width="1162" height="2" fill="#ff0000"/>
<rect x="2" y="230" width="6" height="6" fill="#ff0000"/><rect x="4" y="232" width="2" height="2" fill="#fff"/>
<rect x="1159" y="230" width="6" height="6" fill="#ff0000"/><rect x="1161" y="232" width="2" height="2" fill="#fff"/>
<rect x="3" y="302" width="1162" height="2" fill="#00ff00"/>
<rect x="2" y="300" width="6" height="6" fill="#00ff00"/><rect x="4" y="302" width="2" height="2" fill="#fff"/>
<rect x="1159" y="300" width="6" height="6" fill="#00ff00"/><rect x="1161" y="302" width="2" height="2" fill="#fff"/>
<rect x="3" y="378" width="1162" height="2" fill="#0000ff"/>
<rect x="2" y="376" width="6" height="6" fill="#0000ff"/><rect x="4" y="378" width="2" height="2" fill="#fff"/>
<rect x="1159" y="376" width="6" height="6" fill="#0000ff"/><rect x="1161" y="378" width="2" height="2" fill="#fff"/>
</g>
<g class="c">
<rect x="3" y="103" width="1" height="35" fill="#ff0000"/>
<rect x="2" y="115" width="3" height="23" fill="#ff0000"/>
<rect x="3" y="116" width="1" height="21" fill="#ff4500"/>
<rect x="7" y="102" width="1" height="24" fill="#ff0000"/>
<rect x="6" y="114" width="3" height="2" fill="#ff0000"/>
<rect x="11" y="111" width="1" height="39" fill="#32cd32"/>
<rect x="10" y="114" width="3" height="32" fill="#32cd32"/>
<rect x="15" y="142" width="1" height="85" fill="#32cd32"/>
<rect x="14" y="145" width="3" height="78" fill="#32cd32"/>
<rect x="19" y="204" width="1" height="42" fill="#ff0000"/>
<rect x="18" y="217" width="3" height="11" fill="#ff0000"/>
<rect x="19" y="218" width="1" height="9" fill="#ff4500"/>
<rect x="23" y="199" width="1" height="28" fill="#ff0000"/>
<rect x="22" y="205" width="3" height="12" fill="#ff0000"/>
<rect x="23" y="206" width="1" height="10" fill="#ff4500"/>
<rect x="27" y="151" width="1" height="61" fill="#ff0000"/>
<rect x="26" y="162" width="3" height="45" fill="#ff0000"/>
<rect x="27" y="163" width="1" height="43" fill="#ff4500"/>
<rect x="31" y="155" width="1" height="27" fill="#32cd32"/>
<rect x="30" y="162" width="3" height="10" fill="#32cd32"/>
<rect x="35" y="168" width="1" height="33" fill="#32cd32"/>
<rect x="34" y="172" width="3" height="17" fill="#32cd32"/>
<rect x="39" y="171" width="1" height="20" fill="#ff0000"/>
<rect x="38" y="185" width="3" height="4" fill="#ff0000"/>
<rect x="39" y="186" width="1" height="2" fill="#ff4500"/>
<rect x="43" y="182" width="1" height="41" fill="#32cd32"/>
<rect x="42" y="185" width="3" height="28" fill="#32cd32"/>
<rect x="47" y="185" width="1" height="30" fill="#ff0000"/>
<rect x="46" y="185" width="3" height="28" fill="#ff0000"/>
<rect x="47" y="186" width="1" height="26" fill="#ff4500"/>
<rect x="51" y="183" width="1" height="19" fill="#32cd32"/>
<rect x="50" y="185" width="3" height="14" fill="#32cd32"/>
<rect x="55" y="184" width="1" height="24" fill="#ff0000"/>
<rect x="54" y="192" width="3" height="7" fill="#ff0000"/>
<rect x="55" y="193" width="1" height="5" fill="#ff4500"/>
<rect x="59" y="185" width="1" height="53" fill="#32cd32"/>
<rect x="58" y="194" width="3" height="37" fill="#32cd32"/>
<rect x="63" y="227" width="1" height="38" fill="#32cd32"/>
<rect x="62" y="230" width="3" height="6" fill="#32cd32"/>
<rect x="67" y="235" width="1" height="55" fill="#32cd32"/>
<rect x="66" y="235" width="3" height="40" fill="#32cd32"/>
<rect x="71" y="264" width="1" height="41" fill="#32cd32"/>
<rect x="70" y="274" width="3" height="14" fill="#32cd32"/>
<rect x="75" y="282" width="1" height="38" fill="#32cd32"/>
<rect x="74" y="287" width="3" height="30" fill="#32cd32"/>
<rect x="79" y="293" width="1" height="34" fill="#32cd32"/>
<rect x="78" y="300" width="3" height="5" fill="#32cd32"/>
<rect x="83" y="275" width="1" height="42" fill="#ff0000"/>
<rect x="82" y="282" width="3" height="23" fill="#ff0000"/>
<rect x="83" y="283" width="1" height="21" fill="#ff4500"/>
<rect x="87" y="266" width="1" height="24" fill="#ff0000"/>
<rect x="86" y="279" width="3" height="4" fill="#ff0000"/>
<rect x="87" y="280" width="1" height="2" fill="#ff4500"/>
<rect x="91" y="251" width="1" height="36" fill="#ff0000"/>
<rect x="90" y="253" width="3" height="27" fill="#ff0000"/>
<rect x="91" y="254" width="1" height="25" fill="#ff4500"/>
<rect x="95" y="235" width="1" height="42" fill="#32cd32"/>
<rect x="94" y="252" width="3" height="17" fill="#32cd32"/>
<rect x="99" y="252" width="1" height="26" fill="#32cd32"/>
<rect x="98" y="264" width="3" height="8" fill="#32cd32"/>
<rect x="103" y="248" width="1" height="28" fill="#ff0000"/>
<rect x="102" y="251" width="3" height="21" fill="#ff0000"/>
<rect x="103" y="252" width="1" height="19" fill="#ff4500"/>
<rect x="107" y="250" width="1" height="32" fill="#32cd32"/>
<rect x="106" y="251" width="3" height="20" fill="#32cd32"/>
<rect x="111" y="260" width="1" height="28" fill="#32cd32"/>
<rect x="110" y="271" width="3" height="6" fill="#32cd32"/>
<rect x="115" y="252" width="1" height="33" fill="#ff0000"/>
<rect x="114" y="260" width="3" height="17" fill="#ff0000"/>
<rect x="115" y="261" width="1" height="15" fill="#ff4500"/>
<rect x="119" y="220" width="1" height="40" fill="#ff0000"/>
<rect x="118" y="238" width="3" height="22" fill="#ff0000"/>
<rect x="119" y="239" width="1" height="20" fill="#ff4500"/>
<rect x="123" y="235" width="1" height="16" fill="#32cd32"/>
<rect x="122" y="238" width="3" height="4" fill="#32cd32"/>
<rect x="127" y="183" width="1" height="85" fill="#ff0000"/>
<rect x="126" y="189" width="3" height="53" fill="#ff0000"/>
<rect x="127" y="190" width="1" height="51" fill="#ff4500"/>
<rect x="131" y="146" width="1" height="71" fill="#ff0000"/>
<rect x="130" y="167" width="3" height="23" fill="#ff0000"/>
<rect x="131" y="168" width="1" height="21" fill="#ff4500"/>
<rect x="135" y="149" width="1" height="37" fill="#ff0000"/>
<rect x="134" y="158" width="3" height="10" fill="#ff0000"/>
<rect x="135" y="159" width="1" height="8" fill="#ff4500"/>
<rect x="139" y="122" width="1" height="46" fill="#ff0000"/>
<rect x="138" y="142" width="3" height="22" fill="#ff0000"/>
<rect x="139" y="143" width="1" height="20" fill="#ff4500"/>
<rect x="143" y="112" width="1" height="38" fill="#ff0000"/>
<rect x="142" y="128" width="3" height="14" fill="#ff0000"/>
<rect x="143" y="129" width="1" height="12" fill="#ff4500"/>
<rect x="147" y="102" width="1" height="32" fill="#ff0000"/>
<rect x="146" y="123" width="3" height="5" fill="#ff0000"/>
<rect x="147" y="124" width="1" height="3" fill="#ff4500"/>
<rect x="151" y="112" width="1" height="33" fill="#32cd32"/>
<rect x="150" y="123" width="3" height="13" fill="#32cd32"/>
<rect x="155" y="134" width="1" height="34" fill="#32cd32"/>
<rect x="154" y="136" width="3" height="17" fill="#32cd32"/>
<rect x="159" y="140" width="1" height="20" fill="#ff0000"/>
<rect x="158" y="153" width="3" height="4" fill="#ff0000"/>
<rect x="159" y="154" width="1" height="2" fill="#ff4500"/>
<rect x="163" y="134" width="1" height="26" fill="#ff0000"/>
<rect x="162" y="146" width="3" height="7" fill="#ff0000"/>
<rect x="163" y="147" width="1" height="5" fill="#ff4500"/>
<rect x="167" y="140" width="1" height="18" fill="#ff0000"/>
<rect x="166" y="141" width="3" height="5" fill="#ff0000"/>
<rect x="167" y="142" width="1" height="3" fill="#ff4500"/>
<rect x="171" y="130" width="1" height="21" fill="#ff0000"/>
<rect x="170" y="132" width="3" height="10" fill="#ff0000"/>
<rect x="171" y="133" width="1" height="8" fill="#ff4500"/>
<rect x="175" y="104" width="1" height="37" fill="#32cd32"/>
<rect x="174" y="132" width="3" height="4" fill="#32cd32"/>
<rect x="179" y="129" width="1" height="27" fill="#32cd32"/>
<rect x="178" y="136" width="3" height="13" fill="#32cd32"/>
<rect x="183" y="112" width="1" height="46" fill="#ff0000"/>
<rect x="182" y="125" width="3" height="23" fill="#ff0000"/>
<rect x="183" y="126" width="1" height="21" fill="#ff4500"/>
<rect x="187" y="116" width="1" height="31" fill="#32cd32"/>
<rect x="186" y="125" width="3" height="6" fill="#32cd32"/>
<rect x="191" y="102" width="1" height="32" fill="#ff0000"/>
<rect x="190" y="105" width="3" height="25" fill="#ff0000"/>
<rect x="191" y="106" width="1" height="23" fill="#ff4500"/>
<rect x="195" y="102" width="1" height="18" fill="#32cd32"/>
<rect x="194" y="104" width="3" height="15" fill="#32cd32"/>
<rect x="199" y="117" width="1" height="17" fill="#32cd32"/>
<rect x="198" y="124" width="3" height="5" fill="#32cd32"/>
<rect x="203" y="119" width="1" height="24" fill="#ff0000"/>
<rect x="202" y="120" width="3" height="9" fill="#ff0000"/>
<rect x="203" y="121" width="1" height="7" fill="#ff4500"/>
<rect x="207" y="114" width="1" height="56" fill="#32cd32"/>
<rect x="206" y="120" width="3" height="31" fill="#32cd32"/>
<rect x="211" y="134" width="1" height="25" fill="#ff0000"/>
<rect x="210" y="148" width="3" height="3" fill="#ff0000"/>
<rect x="211" y="149" width="1" height="1" fill="#ff4500"/>
<rect x="215" y="117" width="1" height="33" fill="#ff0000"/>
<rect x="214" y="131" width="3" height="19" fill="#ff0000"/>
<rect x="215" y="132" width="1" height="17" fill="#ff4500"/>
<rect x="219" y="102" width="1" height="28" fill="#ff0000"/>
<rect x="218" y="102" width="3" height="27" fill="#ff0000"/>
<rect x="219" y="103" width="1" height="25" fill="#ff4500"/>
<rect x="223" y="102" width="1" height="18" fill="#32cd32"/>
<rect x="222" y="102" width="3" height="11" fill="#32cd32"/>
<rect x="227" y="110" width="1" height="45" fill="#32cd32"/>
<rect x="226" y="113" width="3" height="34" fill="#32cd32"/>
<rect x="231" y="125" width="1" height="24" fill="#ff0000"/>
<rect x="230" y="131" width="3" height="16" fill="#ff0000"/>
<rect x="231" y="132" width="1" height="14" fill="#ff4500"/>
<rect x="235" y="111" width="1" height="28" fill="#ff0000"/>
<rect x="234" y="129" width="3" height="2" fill="#ff0000"/>
<rect x="239" y="98" width="1" height="32" fill="#ff0000"/>
<rect x="238" y="120" width="3" height="8" fill="#ff0000"/>
<rect x="239" y="121" width="1" height="6" fill="#ff4500"/>
<rect x="243" y="43" width="1" height="82" fill="#ff0000"/>
<rect x="242" y="54" width="3" height="66" fill="#ff0000"/>
<rect x="243" y="55" width="1" height="64" fill="#ff4500"/>
<rect x="247" y="53" width="1" height="64" fill="#32cd32"/>
<rect x="246" y="54" width="3" height="55" fill="#32cd32"/>
<rect x="251" y="100" width="1" height="61" fill="#32cd32"/>
<rect x="250" y="108" width="3" height="48" fill="#32cd32"/>
<rect x="255" y="133" width="1" height="37" fill="#ff0000"/>
<rect x="254" y="145" width="3" height="11" fill="#ff0000"/>
<rect x="255" y="146" width="1" height="9" fill="#ff4500"/>
<rect x="259" y="134" width="1" height="22" fill="#32cd32"/>
<rect x="258" y="144" width="3" height="5" fill="#32cd32"/>
<rect x="263" y="139" width="1" height="16" fill="#ff0000"/>
<rect x="262" y="146" width="3" height="3" fill="#ff0000"/>
<rect x="263" y="147" width="1" height="1" fill="#ff4500"/>
<rect x="267" y="142" width="1" height="24" fill="#32cd32"/>
<rect x="266" y="146" width="3" height="5" fill="#32cd32"/>
<rect x="271" y="145" width="1" height="19" fill="#32cd32"/>
<rect x="270" y="151" width="3" height="3" fill="#32cd32"/>
<rect x="275" y="115" width="1" height="39" fill="#ff0000"/>
<rect x="274" y="124" width="3" height="30" fill="#ff0000"/>
<rect x="275" y="125" width="1" height="28" fill="#ff4500"/>
<rect x="279" y="109" width="1" height="24" fill="#ff0000"/>
<rect x="278" y="114" width="3" height="5" fill="#ff0000"/>
<rect x="279" y="115" width="1" height="3" fill="#ff4500"/>
<rect x="283" y="107" width="1" height="16" fill="#ff0000"/>
<rect x="282" y="111" width="3" height="4" fill="#ff0000"/>
<rect x="283" y="112" width="1" height="2" fill="#ff4500"/>
<rect x="287" y="101" width="1" height="33" fill="#32cd32"/>
<rect x="286" y="110" width="3" height="17" fill="#32cd32"/>
<rect x="291" y="119" width="1" height="13" fill="#ff0000"/>
<rect x="290" y="125" width="3" height="3" fill="#ff0000"/>
<rect x="291" y="126" width="1" height="1" fill="#ff4500"/>
<rect x="295" y="113" width="1" height="17" fill="#32cd32"/>
<rect x="294" y="124" width="3" height="6" fill="#32cd32"/>
<rect x="299" y="119" width="1" height="15" fill="#32cd32"/>
<rect x="298" y="121" width="3" height="7" fill="#32cd32"/>
<rect x="303" y="95" width="1" height="34" fill="#ff0000"/>
<rect x="302" y="102" width="3" height="27" fill="#ff0000"/>
<rect x="303" y="103" width="1" height="25" fill="#ff4500"/>
<rect x="307" y="100" width="1" height="23" fill="#32cd32"/>
<rect x="306" y="102" width="3" height="12" fill="#32cd32"/>
<rect x="311" y="82" width="1" height="32" fill="#ff0000"/>
<rect x="310" y="91" width="3" height="23" fill="#ff0000"/>
<rect x="311" y="92" width="1" height="21" fill="#ff4500"/>
<rect x="315" y="72" width="1" height="24" fill="#32cd32"/>
<rect x="314" y="91" width="3" height="1" fill="#32cd32"/>
<rect x="319" y="89" width="1" height="41" fill="#32cd32"/>
<rect x="318" y="89" width="3" height="36" fill="#32cd32"/>
<rect x="323" y="112" width="1" height="33" fill="#32cd32"/>
<rect x="322" y="124" width="3" height="15" fill="#32cd32"/>
<rect x="327" y="123" width="1" height="20" fill="#ff0000"/>
<rect x="326" y="138" width="3" height="1" fill="#ff0000"/>
<rect x="331" y="113" width="1" height="25" fill="#ff0000"/>
<rect x="330" y="118" width="3" height="20" fill="#ff0000"/>
<rect x="331" y="119" width="1" height="18" fill="#ff4500"/>
<rect x="335" y="112" width="1" height="43" fill="#32cd32"/>
<rect x="334" y="118" width="3" height="33" fill="#32cd32"/>
<rect x="339" y="140" width="1" height="13" fill="#ff0000"/>
<rect x="338" y="145" width="3" height="4" fill="#ff0000"/>
<rect x="339" y="146" width="1" height="2" fill="#ff4500"/>
<rect x="343" y="135" width="1" height="41" fill="#32cd32"/>
<rect x="342" y="145" width="3" height="20" fill="#32cd32"/>
<rect x="347" y="148" width="1" height="28" fill="#32cd32"/>
<rect x="346" y="164" width="3" height="4" fill="#32cd32"/>
<rect x="351" y="156" width="1" height="20" fill="#32cd32"/>
<rect x="350" y="167" width="3" height="6" fill="#32cd32"/>
<rect x="355" y="159" width="1" height="54" fill="#32cd32"/>
<rect x="354" y="172" width="3" height="19" fill="#32cd32"/>
<rect x="359" y="162" width="1" height="28" fill="#ff0000"/>
<rect x="358" y="171" width="3" height="19" fill="#ff0000"/>
<rect x="359" y="172" width="1" height="17" fill="#ff4500"/>
<rect x="363" y="146" width="1" height="29" fill="#ff0000"/>
<rect x="362" y="152" width="3" height="19" fill="#ff0000"/>
<rect x="363" y="153" width="1" height="17" fill="#ff4500"/>
<rect x="367" y="149" width="1" height="18" fill="#32cd32"/>
<rect x="366" y="152" width="3" height="6" fill="#32cd32"/>
<rect x="371" y="150" width="1" height="27" fill="#32cd32"/>
<rect x="370" y="156" width="3" height="13" fill="#32cd32"/>
<rect x="375" y="162" width="1" height="48" fill="#32cd32"/>
<rect x="374" y="168" width="3" height="16" fill="#32cd32"/>
<rect x="379" y="164" width="1" height="21" fill="#ff0000"/>
<rect x="378" y="183" width="3" height="2" fill="#ff0000"/>
<rect x="383" y="175" width="1" height="28" fill="#32cd32"/>
<rect x="382" y="182" width="3" height="9" fill="#32cd32"/>
<rect x="387" y="181" width="1" height="32" fill="#32cd32"/>
<rect x="386" y="191" width="3" height="15" fill="#32cd32"/>
<rect x="391" y="162" width="1" height="45" fill="#ff0000"/>
<rect x="390" y="165" width="3" height="42" fill="#ff0000"/>
<rect x="391" y="166" width="1" height="40" fill="#ff4500"/>
<rect x="395" y="134" width="1" height="47" fill="#ff0000"/>
<rect x="394" y="138" width="3" height="27" fill="#ff0000"/>
<rect x="395" y="139" width="1" height="25" fill="#ff4500"/>
<rect x="399" y="109" width="1" height="28" fill="#ff0000"/>
<rect x="398" y="120" width="3" height="13" fill="#ff0000"/>
<rect x="399" y="121" width="1" height="11" fill="#ff4500"/>
<rect x="403" y="109" width="1" height="26" fill="#ff0000"/>
<rect x="402" y="114" width="3" height="5" fill="#ff0000"/>
<rect x="403" y="115" width="1" height="3" fill="#ff4500"/>
<rect x="407" y="110" width="1" height="57" fill="#32cd32"/>
<rect x="406" y="114" width="3" height="22" fill="#32cd32"/>
<rect x="411" y="130" width="1" height="37" fill="#32cd32"/>
<rect x="410" y="136" width="3" height="15" fill="#32cd32"/>
<rect x="415" y="133" width="1" height="26" fill="#ff0000"/>
<rect x="414" y="147" width="3" height="4" fill="#ff0000"/>
<rect x="415" y="148" width="1" height="2" fill="#ff4500"/>
<rect x="419" y="139" width="1" height="27" fill="#32cd32"/>
<rect x="418" y="152" width="3" height="3" fill="#32cd32"/>
<rect x="423" y="135" width="1" height="31" fill="#ff0000"/>
<rect x="422" y="136" width="3" height="19" fill="#ff0000"/>
<rect x="423" y="137" width="1" height="17" fill="#ff4500"/>
<rect x="427" y="122" width="1" height="22" fill="#ff0000"/>
<rect x="426" y="124" width="3" height="13" fill="#ff0000"/>
<rect x="427" y="125" width="1" height="11" fill="#ff4500"/>
<rect x="431" y="122" width="1" height="57" fill="#32cd32"/>
<rect x="430" y="124" width="3" height="49" fill="#32cd32"/>
<rect x="435" y="151" width="1" height="56" fill="#32cd32"/>
<rect x="434" y="173" width="3" height="28" fill="#32cd32"/>
<rect x="439" y="157" width="1" height="30" fill="#ff0000"/>
<rect x="438" y="170" width="3" height="13" fill="#ff0000"/>
<rect x="439" y="171" width="1" height="11" fill="#ff4500"/>
<rect x="443" y="155" width="1" height="28" fill="#32cd32"/>
<rect x="442" y="172" width="3" height="1" fill="#32cd32"/>
<rect x="447" y="137" width="1" height="40" fill="#ff0000"/>
<rect x="446" y="162" width="3" height="11" fill="#ff0000"/>
<rect x="447" y="163" width="1" height="9" fill="#ff4500"/>
<rect x="451" y="159" width="1" height="16" fill="#32cd32"/>
<rect x="450" y="162" width="3" height="9" fill="#32cd32"/>
<rect x="455" y="161" width="1" height="24" fill="#32cd32"/>
<rect x="454" y="170" width="3" height="11" fill="#32cd32"/>
<rect x="459" y="155" width="1" height="38" fill="#ff0000"/>
<rect x="458" y="157" width="3" height="20" fill="#ff0000"/>
<rect x="459" y="158" width="1" height="18" fill="#ff4500"/>
<rect x="463" y="147" width="1" height="26" fill="#32cd32"/>
<rect x="462" y="157" width="3" height="6" fill="#32cd32"/>
<rect x="467" y="161" width="1" height="51" fill="#32cd32"/>
<rect x="466" y="162" width="3" height="45" fill="#32cd32"/>
<rect x="471" y="187" width="1" height="25" fill="#ff0000"/>
<rect x="470" y="194" width="3" height="11" fill="#ff0000"/>
<rect x="471" y="195" width="1" height="9" fill="#ff4500"/>
<rect x="475" y="190" width="1" height="25" fill="#32cd32"/>
<rect x="474" y="194" width="3" height="3" fill="#32cd32"/>
<rect x="479" y="189" width="1" height="23" fill="#32cd32"/>
<rect x="478" y="200" width="3" height="6" fill="#32cd32"/>
<rect x="483" y="205" width="1" height="98" fill="#32cd32"/>
<rect x="482" y="206" width="3" height="87" fill="#32cd32"/>
<rect x="487" y="259" width="1" height="36" fill="#ff0000"/>
<rect x="486" y="264" width="3" height="26" fill="#ff0000"/>
<rect x="487" y="265" width="1" height="24" fill="#ff4500"/>
<rect x="491" y="252" width="1" height="28" fill="#ff0000"/>
<rect x="490" y="262" width="3" height="2" fill="#ff0000"/>
<rect x="495" y="255" width="1" height="34" fill="#32cd32"/>
<rect x="494" y="261" width="3" height="17" fill="#32cd32"/>
<rect x="499" y="270" width="1" height="23" fill="#32cd32"/>
<rect x="498" y="279" width="3" height="6" fill="#32cd32"/>
<rect x="503" y="275" width="1" height="18" fill="#32cd32"/>
<rect x="502" y="283" width="3" height="4" fill="#32cd32"/>
<rect x="507" y="257" width="1" height="34" fill="#ff0000"/>
<rect x="506" y="262" width="3" height="23" fill="#ff0000"/>
<rect x="507" y="263" width="1" height="21" fill="#ff4500"/>
<rect x="511" y="244" width="1" height="31" fill="#32cd32"/>
<rect x="510" y="261" width="3" height="10" fill="#32cd32"/>
<rect x="515" y="235" width="1" height="46" fill="#ff0000"/>
<rect x="514" y="239" width="3" height="31" fill="#ff0000"/>
<rect x="515" y="240" width="1" height="29" fill="#ff4500"/>
<rect x="519" y="237" width="1" height="28" fill="#32cd32"/>
<rect x="518" y="240" width="3" height="19" fill="#32cd32"/>
<rect x="523" y="245" width="1" height="21" fill="#ff0000"/>
<rect x="522" y="249" width="3" height="10" fill="#ff0000"/>
<rect x="523" y="250" width="1" height="8" fill="#ff4500"/>
<rect x="527" y="241" width="1" height="26" fill="#32cd32"/>
<rect x="526" y="248" width="3" height="17" fill="#32cd32"/>
<rect x="531" y="248" width="1" height="19" fill="#ff0000"/>
<rect x="530" y="259" width="3" height="6" fill="#ff0000"/>
<rect x="531" y="260" width="1" height="4" fill="#ff4500"/>
<rect x="535" y="240" width="1" height="22" fill="#ff0000"/>
<rect x="534" y="255" width="3" height="5" fill="#ff0000"/>
<rect x="535" y="256" width="1" height="3" fill="#ff4500"/>
<rect x="539" y="253" width="1" height="24" fill="#32cd32"/>
<rect x="538" y="257" width="3" height="14" fill="#32cd32"/>
<rect x="543" y="255" width="1" height="21" fill="#32cd32"/>
<rect x="542" y="270" width="3" height="4" fill="#32cd32"/>
<rect x="547" y="249" width="1" height="28" fill="#ff0000"/>
<rect x="546" y="253" width="3" height="18" fill="#ff0000"/>
<rect x="547" y="254" width="1" height="16" fill="#ff4500"/>
<rect x="551" y="239" width="1" height="38" fill="#32cd32"/>
<rect x="550" y="253" width="3" height="12" fill="#32cd32"/>
<rect x="555" y="263" width="1" height="36" fill="#32cd32"/>
<rect x="554" y="265" width="3" height="16" fill="#32cd32"/>
<rect x="559" y="276" width="1" height="19" fill="#ff0000"/>
<rect x="558" y="281" width="3" height="6" fill="#ff0000"/>
<rect x="559" y="282" width="1" height="4" fill="#ff4500"/>
<rect x="563" y="256" width="1" height="59" fill="#ff0000"/>
<rect x="562" y="267" width="3" height="14" fill="#ff0000"/>
<rect x="563" y="268" width="1" height="12" fill="#ff4500"/>
<rect x="567" y="263" width="1" height="34" fill="#32cd32"/>
<rect x="566" y="267" width="3" height="26" fill="#32cd32"/>
<rect x="571" y="267" width="1" height="28" fill="#ff0000"/>
<rect x="570" y="285" width="3" height="6" fill="#ff0000"/>
<rect x="571" y="286" width="1" height="4" fill="#ff4500"/>
<rect x="575" y="259" width="1" height="27" fill="#ff0000"/>
<rect x="574" y="267" width="3" height="19" fill="#ff0000"/>
<rect x="575" y="268" width="1" height="17" fill="#ff4500"/>
<rect x="579" y="259" width="1" height="30" fill="#32cd32"/>
<rect x="578" y="265" width="3" height="6" fill="#32cd32"/>
<rect x="583" y="261" width="1" height="18" fill="#ff0000"/>
<rect x="582" y="267" width="3" height="4" fill="#ff0000"/>
<rect x="583" y="268" width="1" height="2" fill="#ff4500"/>
<rect x="587" y="254" width="1" height="19" fill="#ff0000"/>
<rect x="586" y="261" width="3" height="6" fill="#ff0000"/>
<rect x="587" y="262" width="1" height="4" fill="#ff4500"/>
<rect x="591" y="259" width="1" height="18" fill="#32cd32"/>
<rect x="590" y="261" width="3" height="8" fill="#32cd32"/>
<rect x="595" y="252" width="1" height="19" fill="#ff0000"/>
<rect x="594" y="255" width="3" height="16" fill="#ff0000"/>
<rect x="595" y="256" width="1" height="14" fill="#ff4500"/>
<rect x="599" y="259" width="1" height="24" fill="#32cd32"/>
<rect x="598" y="261" width="3" height="16" fill="#32cd32"/>
<rect x="603" y="276" width="1" height="36" fill="#32cd32"/>
<rect x="602" y="277" width="3" height="27" fill="#32cd32"/>
<rect x="607" y="292" width="1" height="21" fill="#ff0000"/>
<rect x="606" y="299" width="3" height="4" fill="#ff0000"/>
<rect x="607" y="300" width="1" height="2" fill="#ff4500"/>
<rect x="611" y="288" width="1" height="17" fill="#ff0000"/>
<rect x="610" y="297" width="3" height="2" fill="#ff0000"/>
<rect x="615" y="284" width="1" height="23" fill="#ff0000"/>
<rect x="614" y="294" width="3" height="3" fill="#ff0000"/>
<rect x="615" y="295" width="1" height="1" fill="#ff4500"/>
<rect x="619" y="285" width="1" height="19" fill="#ff0000"/>
<rect x="618" y="293" width="3" height="1" fill="#ff0000"/>
<rect x="623" y="290" width="1" height="26" fill="#32cd32"/>
<rect x="622" y="293" width="3" height="18" fill="#32cd32"/>
<rect x="627" y="306" width="1" height="59" fill="#32cd32"/>
<rect x="626" y="307" width="3" height="35" fill="#32cd32"/>
<rect x="631" y="278" width="1" height="73" fill="#ff0000"/>
<rect x="630" y="290" width="3" height="51" fill="#ff0000"/>
<rect x="631" y="291" width="1" height="49" fill="#ff4500"/>
<rect x="635" y="269" width="1" height="41" fill="#32cd32"/>
<rect x="634" y="289" width="3" height="1" fill="#32cd32"/>
<rect x="639" y="291" width="1" height="19" fill="#32cd32"/>
<rect x="638" y="292" width="3" height="4" fill="#32cd32"/>
<rect x="643" y="292" width="1" height="14" fill="#32cd32"/>
<rect x="642" y="294" width="3" height="4" fill="#32cd32"/>
<rect x="647" y="284" width="1" height="19" fill="#ff0000"/>
<rect x="646" y="291" width="3" height="7" fill="#ff0000"/>
<rect x="647" y="292" width="1" height="5" fill="#ff4500"/>
<rect x="651" y="284" width="1" height="16" fill="#ff0000"/>
<rect x="650" y="288" width="3" height="4" fill="#ff0000"/>
<rect x="651" y="289" width="1" height="2" fill="#ff4500"/>
<rect x="655" y="262" width="1" height="32" fill="#ff0000"/>
<rect x="654" y="275" width="3" height="11" fill="#ff0000"/>
<rect x="655" y="276" width="1" height="9" fill="#ff4500"/>
<rect x="659" y="268" width="1" height="16" fill="#32cd32"/>
<rect x="658" y="271" width="3" height="9" fill="#32cd32"/>
<rect x="663" y="276" width="1" height="18" fill="#32cd32"/>
<rect x="662" y="279" width="3" height="11" fill="#32cd32"/>
<rect x="667" y="281" width="1" height="13" fill="#32cd32"/>
<rect x="666" y="289" width="3" height="1" fill="#32cd32"/>
<rect x="671" y="285" width="1" height="11" fill="#32cd32"/>
<rect x="670" y="289" width="3" height="3" fill="#32cd32"/>
<rect x="675" y="285" width="1" height="9" fill="#32cd32"/>
<rect x="674" y="291" width="3" height="1" fill="#32cd32"/>
<rect x="679" y="289" width="1" height="12" fill="#ff0000"/>
<rect x="678" y="295" width="3" height="3" fill="#ff0000"/>
<rect x="679" y="296" width="1" height="1" fill="#ff4500"/>
<rect x="683" y="288" width="1" height="13" fill="#32cd32"/>
<rect x="682" y="295" width="3" height="1" fill="#32cd32"/>
<rect x="687" y="294" width="1" height="14" fill="#32cd32"/>
<rect x="686" y="296" width="3" height="7" fill="#32cd32"/>
<rect x="691" y="286" width="1" height="20" fill="#ff0000"/>
<rect x="690" y="292" width="3" height="12" fill="#ff0000"/>
<rect x="691" y="293" width="1" height="10" fill="#ff4500"/>
<rect x="695" y="286" width="1" height="67" fill="#32cd32"/>
<rect x="694" y="292" width="3" height="18" fill="#32cd32"/>
<rect x="699" y="293" width="1" height="38" fill="#ff0000"/>
<rect x="698" y="299" width="3" height="19" fill="#ff0000"/>
<rect x="699" y="300" width="1" height="17" fill="#ff4500"/>
<rect x="703" y="279" width="1" height="22" fill="#ff0000"/>
<rect x="702" y="294" width="3" height="6" fill="#ff0000"/>
<rect x="703" y="295" width="1" height="4" fill="#ff4500"/>
<rect x="707" y="289" width="1" height="19" fill="#32cd32"/>
<rect x="706" y="292" width="3" height="1" fill="#32cd32"/>
<rect x="711" y="255" width="1" height="43" fill="#ff0000"/>
<rect x="710" y="266" width="3" height="28" fill="#ff0000"/>
<rect x="711" y="267" width="1" height="26" fill="#ff4500"/>
<rect x="715" y="263" width="1" height="25" fill="#32cd32"/>
<rect x="714" y="265" width="3" height="15" fill="#32cd32"/>
<rect x="719" y="274" width="1" height="16" fill="#32cd32"/>
<rect x="718" y="281" width="3" height="3" fill="#32cd32"/>
<rect x="723" y="277" width="1" height="14" fill="#32cd32"/>
<rect x="722" y="283" width="3" height="7" fill="#32cd32"/>
<rect x="727" y="288" width="1" height="30" fill="#32cd32"/>
<rect x="726" y="288" width="3" height="24" fill="#32cd32"/>
<rect x="731" y="302" width="1" height="20" fill="#32cd32"/>
<rect x="730" y="311" width="3" height="3" fill="#32cd32"/>
<rect x="735" y="306" width="1" height="40" fill="#32cd32"/>
<rect x="734" y="312" width="3" height="11" fill="#32cd32"/>
<rect x="739" y="308" width="1" height="27" fill="#32cd32"/>
<rect x="738" y="324" width="3" height="7" fill="#32cd32"/>
<rect x="743" y="312" width="1" height="37" fill="#ff0000"/>
<rect x="742" y="318" width="3" height="13" fill="#ff0000"/>
<rect x="743" y="319" width="1" height="11" fill="#ff4500"/>
<rect x="747" y="313" width="1" height="24" fill="#32cd32"/>
<rect x="746" y="318" width="3" height="11" fill="#32cd32"/>
<rect x="751" y="328" width="1" height="19" fill="#32cd32"/>
<rect x="750" y="329" width="3" height="6" fill="#32cd32"/>
<rect x="755" y="329" width="1" height="24" fill="#32cd32"/>
<rect x="754" y="335" width="3" height="10" fill="#32cd32"/>
<rect x="759" y="346" width="1" height="29" fill="#32cd32"/>
<rect x="758" y="348" width="3" height="13" fill="#32cd32"/>
<rect x="763" y="352" width="1" height="16" fill="#32cd32"/>
<rect x="762" y="360" width="3" height="5" fill="#32cd32"/>
<rect x="767" y="350" width="1" height="26" fill="#ff0000"/>
<rect x="766" y="355" width="3" height="10" fill="#ff0000"/>
<rect x="767" y="356" width="1" height="8" fill="#ff4500"/>
<rect x="771" y="291" width="1" height="65" fill="#ff0000"/>
<rect x="770" y="302" width="3" height="54" fill="#ff0000"/>
<rect x="771" y="303" width="1" height="52" fill="#ff4500"/>
<rect x="775" y="295" width="1" height="27" fill="#ff0000"/>
<rect x="774" y="298" width="3" height="4" fill="#ff0000"/>
<rect x="775" y="299" width="1" height="2" fill="#ff4500"/>
<rect x="779" y="274" width="1" height="34" fill="#ff0000"/>
<rect x="778" y="297" width="3" height="9" fill="#ff0000"/>
<rect x="779" y="298" width="1" height="7" fill="#ff4500"/>
<rect x="783" y="293" width="1" height="18" fill="#32cd32"/>
<rect x="782" y="298" width="3" height="4" fill="#32cd32"/>
<rect x="787" y="292" width="1" height="33" fill="#32cd32"/>
<rect x="786" y="301" width="3" height="20" fill="#32cd32"/>
<rect x="791" y="298" width="1" height="35" fill="#32cd32"/>
<rect x="790" y="320" width="3" height="10" fill="#32cd32"/>
<rect x="795" y="302" width="1" height="33" fill="#ff0000"/>
<rect x="794" y="311" width="3" height="18" fill="#ff0000"/>
<rect x="795" y="312" width="1" height="16" fill="#ff4500"/>
<rect x="799" y="302" width="1" height="21" fill="#ff0000"/>
<rect x="798" y="314" width="3" height="2" fill="#ff0000"/>
<rect x="803" y="290" width="1" height="31" fill="#ff0000"/>
<rect x="802" y="305" width="3" height="10" fill="#ff0000"/>
<rect x="803" y="306" width="1" height="8" fill="#ff4500"/>
<rect x="807" y="299" width="1" height="18" fill="#32cd32"/>
<rect x="806" y="303" width="3" height="9" fill="#32cd32"/>
<rect x="811" y="303" width="1" height="26" fill="#ff0000"/>
<rect x="810" y="309" width="3" height="3" fill="#ff0000"/>
<rect x="811" y="310" width="1" height="1" fill="#ff4500"/>
<rect x="815" y="301" width="1" height="26" fill="#ff0000"/>
<rect x="814" y="304" width="3" height="5" fill="#ff0000"/>
<rect x="815" y="305" width="1" height="3" fill="#ff4500"/>
<rect x="819" y="304" width="1" height="23" fill="#32cd32"/>
<rect x="818" y="306" width="3" height="17" fill="#32cd32"/>
<rect x="823" y="318" width="1" height="45" fill="#32cd32"/>
<rect x="822" y="322" width="3" height="29" fill="#32cd32"/>
<rect x="827" y="346" width="1" height="20" fill="#32cd32"/>
<rect x="826" y="351" width="3" height="12" fill="#32cd32"/>
<rect x="831" y="351" width="1" height="18" fill="#ff0000"/>
<rect x="830" y="359" width="3" height="4" fill="#ff0000"/>
<rect x="831" y="360" width="1" height="2" fill="#ff4500"/>
<rect x="835" y="356" width="1" height="30" fill="#32cd32"/>
<rect x="834" y="359" width="3" height="15" fill="#32cd32"/>
<rect x="839" y="365" width="1" height="19" fill="#ff0000"/>
<rect x="838" y="368" width="3" height="5" fill="#ff0000"/>
<rect x="839" y="369" width="1" height="3" fill="#ff4500"/>
<rect x="843" y="342" width="1" height="42" fill="#32cd32"/>
<rect x="842" y="368" width="3" height="7" fill="#32cd32"/>
<rect x="847" y="367" width="1" height="36" fill="#32cd32"/>
<rect x="846" y="376" width="3" height="17" fill="#32cd32"/>
<rect x="851" y="357" width="1" height="48" fill="#ff0000"/>
<rect x="850" y="379" width="3" height="14" fill="#ff0000"/>
<rect x="851" y="380" width="1" height="12" fill="#ff4500"/>
<rect x="855" y="376" width="1" height="25" fill="#32cd32"/>
<rect x="854" y="377" width="3" height="20" fill="#32cd32"/>
<rect x="859" y="376" width="1" height="27" fill="#32cd32"/>
<rect x="858" y="381" width="3" height="14" fill="#32cd32"/>
<rect x="863" y="381" width="1" height="22" fill="#ff0000"/>
<rect x="862" y="385" width="3" height="8" fill="#ff0000"/>
<rect x="863" y="386" width="1" height="6" fill="#ff4500"/>
<rect x="867" y="363" width="1" height="34" fill="#ff0000"/>
<rect x="866" y="377" width="3" height="8" fill="#ff0000"/>
<rect x="867" y="378" width="1" height="6" fill="#ff4500"/>
<rect x="871" y="370" width="1" height="13" fill="#32cd32"/>
<rect x="870" y="377" width="3" height="2" fill="#32cd32"/>
<rect x="875" y="365" width="1" height="20" fill="#ff0000"/>
<rect x="874" y="371" width="3" height="8" fill="#ff0000"/>
<rect x="875" y="372" width="1" height="6" fill="#ff4500"/>
<rect x="879" y="364" width="1" height="17" fill="#32cd32"/>
<rect x="878" y="371" width="3" height="4" fill="#32cd32"/>
<rect x="883" y="366" width="1" height="29" fill="#32cd32"/>
<rect x="882" y="374" width="3" height="1" fill="#32cd32"/>
<rect x="887" y="365" width="1" height="20" fill="#32cd32"/>
<rect x="886" y="375" width="3" height="3" fill="#32cd32"/>
<rect x="891" y="364" width="1" height="16" fill="#ff0000"/>
<rect x="890" y="373" width="3" height="6" fill="#ff0000"/>
<rect x="891" y="374" width="1" height="4" fill="#ff4500"/>
<rect x="895" y="315" width="1" height="59" fill="#ff0000"/>
<rect x="894" y="317" width="3" height="57" fill="#ff0000"/>
<rect x="895" y="318" width="1" height="55" fill="#ff4500"/>
<rect x="899" y="255" width="1" height="66" fill="#ff0000"/>
<rect x="898" y="262" width="3" height="53" fill="#ff0000"/>
<rect x="899" y="263" width="1" height="51" fill="#ff4500"/>
<rect x="903" y="233" width="1" height="52" fill="#32cd32"/>
<rect x="902" y="262" width="3" height="15" fill="#32cd32"/>
<rect x="907" y="266" width="1" height="63" fill="#32cd32"/>
<rect x="906" y="277" width="3" height="34" fill="#32cd32"/>
<rect x="911" y="302" width="1" height="23" fill="#ff0000"/>
<rect x="910" y="310" width="3" height="1" fill="#ff0000"/>
<rect x="915" y="283" width="1" height="34" fill="#ff0000"/>
<rect x="914" y="297" width="3" height="12" fill="#ff0000"/>
<rect x="915" y="298" width="1" height="10" fill="#ff4500"/>
<rect x="919" y="285" width="1" height="30" fill="#ff0000"/>
<rect x="918" y="296" width="3" height="4" fill="#ff0000"/>
<rect x="919" y="297" width="1" height="2" fill="#ff4500"/>
<rect x="923" y="287" width="1" height="14" fill="#ff0000"/>
<rect x="922" y="290" width="3" height="8" fill="#ff0000"/>
<rect x="923" y="291" width="1" height="6" fill="#ff4500"/>
</g>
</g>
<rect class="c" x="1167" y="154" width="40" height="11" fill="#ff0000"/>
<text x="1170.4" y="163.3" font-size="10.0" fill="#fff" font-weight="400" text-anchor="start" textLength="37" lengthAdjust="spacingAndGlyphs" >6.45555</text>
<rect class="c" x="1167" y="227" width="40" height="11" fill="#ff0000"/>
<text x="1170.4" y="236.3" font-size="10.0" fill="#fff" font-weight="400" text-anchor="start" textLength="37" lengthAdjust="spacingAndGlyphs" >6.41052</text>
<rect class="c" x="1167" y="285" width="40" height="11" fill="#000000"/>
<text x="1170.4" y="294.3" font-size="10.0" fill="#fff" font-weight="400" text-anchor="start" textLength="37" lengthAdjust="spacingAndGlyphs" >6.37554</text>
<rect class="c" x="1167" y="297" width="40" height="11" fill="#00ff00"/>
<text x="1170.4" y="306.3" font-size="10.0" fill="#fff" font-weight="400" text-anchor="start" textLength="37" lengthAdjust="spacingAndGlyphs" >6.36753</text>
<rect class="c" x="1167" y="373" width="40" height="11" fill="#0000ff"/>
<text x="1170.4" y="382.3" font-size="10.0" fill="#fff" font-weight="400" text-anchor="start" textLength="37" lengthAdjust="spacingAndGlyphs" >6.32045</text>
<path d="M6 34 L9.5 30 L13 34 Z" fill="#000"/>
<text x="18.4" y="36" font-size="10.4" fill="#000" font-weight="400" text-anchor="start" textLength="68.5" lengthAdjust="spacingAndGlyphs" >USDCNH-,Daily</text>
<text x="92.9" y="36" font-size="10.4" fill="#000" font-weight="400" text-anchor="start" textLength="140.7" lengthAdjust="spacingAndGlyphs" >6.37131 6.37700 6.36929 6.37554</text>
<g class="c">
<rect x="6" y="43" width="52" height="24" fill="#a80000"/>
<rect x="7" y="44" width="50" height="23" fill="url(#gTop)"/>
<rect x="173" y="43" width="52" height="24" fill="#a80000"/>
<rect x="174" y="44" width="50" height="23" fill="url(#gTop)"/>
<rect x="6" y="67" width="109" height="33" fill="#a80000"/>
<rect x="7" y="67" width="107" height="32" fill="url(#gBot)"/>
<rect x="117" y="67" width="108" height="33" fill="#a80000"/>
<rect x="118" y="67" width="106" height="32" fill="url(#gBot)"/>
<rect x="10" y="66" width="44" height="1" fill="#9a0000"/><rect x="10" y="67" width="44" height="1" fill="#ff7070"/>
<rect x="177" y="66" width="44" height="1" fill="#9a0000"/><rect x="177" y="67" width="44" height="1" fill="#ff7070"/>
<rect x="60" y="43" width="111" height="22" fill="#a9abb0"/>
<rect x="61" y="44" width="109" height="20" fill="#ffffff"/>
<rect x="62" y="45" width="19" height="18" fill="url(#gBtn)"/>
<rect x="81" y="44" width="1" height="20" fill="#a9abb0"/>
<rect x="150" y="45" width="19" height="18" fill="url(#gBtn)"/>
<rect x="149" y="44" width="1" height="20" fill="#a9abb0"/>
</g>
<path d="M68 52 L73.5 52 L70.75 55 Z" fill="#5566bb"/>
<path d="M157 55 L162.5 55 L159.75 52 Z" fill="#5566bb"/>
<text x="122.7" y="58" font-size="12.4" fill="#000" font-weight="400" text-anchor="start" textLength="22.8" lengthAdjust="spacingAndGlyphs" >5.00</text>
<text x="18.5" y="58.8" font-size="12.2" fill="#fff" font-weight="400" text-anchor="start" textLength="25.5" lengthAdjust="spacingAndGlyphs" >SELL</text>
<text x="186.4" y="58.8" font-size="12.2" fill="#fff" font-weight="400" text-anchor="start" textLength="23.6" lengthAdjust="spacingAndGlyphs" >BUY</text>
<text x="26.4" y="94.6" font-size="13.4" fill="#fff" font-weight="700" text-anchor="start" textLength="23.1" lengthAdjust="spacingAndGlyphs" >6.37</text>
<text x="137.0" y="94.6" font-size="13.4" fill="#fff" font-weight="700" text-anchor="start" textLength="23.1" lengthAdjust="spacingAndGlyphs" >6.37</text>
<text x="54.9" y="94.6" font-size="35" fill="#fff" font-weight="400" text-anchor="start" textLength="32.3" lengthAdjust="spacingAndGlyphs" stroke="url(#gBotU)" stroke-width="0.7">55</text>
<text x="93.1" y="79" font-size="11.6" fill="#fff" font-weight="700" text-anchor="start" textLength="6.8" lengthAdjust="spacingAndGlyphs" >4</text>
<text x="165" y="94.6" font-size="35" fill="#fff" font-weight="400" text-anchor="start" textLength="33.8" lengthAdjust="spacingAndGlyphs" stroke="url(#gBotU)" stroke-width="0.7">77</text>
<text x="204.5" y="79" font-size="11.6" fill="#fff" font-weight="700" text-anchor="start" textLength="6.1" lengthAdjust="spacingAndGlyphs" >5</text>
<g clip-path="url(#clipMacd)">
<g class="c">
<rect x="2" y="442" width="3" height="20" fill="#c0c0c0"/>
<rect x="6" y="442" width="3" height="19" fill="#c0c0c0"/>
<rect x="10" y="442" width="3" height="20" fill="#c0c0c0"/>
<rect x="14" y="442" width="3" height="26" fill="#c0c0c0"/>
<rect x="18" y="442" width="3" height="30" fill="#c0c0c0"/>
<rect x="22" y="442" width="3" height="32" fill="#c0c0c0"/>
<rect x="26" y="442" width="3" height="31" fill="#c0c0c0"/>
<rect x="30" y="442" width="3" height="30" fill="#c0c0c0"/>
<rect x="34" y="442" width="3" height="30" fill="#c0c0c0"/>
<rect x="38" y="442" width="3" height="29" fill="#c0c0c0"/>
<rect x="42" y="442" width="3" height="30" fill="#c0c0c0"/>
<rect x="46" y="442" width="3" height="29" fill="#c0c0c0"/>
<rect x="50" y="442" width="3" height="28" fill="#c0c0c0"/>
<rect x="54" y="442" width="3" height="27" fill="#c0c0c0"/>
<rect x="58" y="442" width="3" height="29" fill="#c0c0c0"/>
<rect x="62" y="442" width="3" height="30" fill="#c0c0c0"/>
<rect x="66" y="442" width="3" height="33" fill="#c0c0c0"/>
<rect x="70" y="442" width="3" height="36" fill="#c0c0c0"/>
<rect x="74" y="442" width="3" height="40" fill="#c0c0c0"/>
<rect x="78" y="442" width="3" height="42" fill="#c0c0c0"/>
<rect x="82" y="442" width="3" height="42" fill="#c0c0c0"/>
<rect x="86" y="442" width="3" height="41" fill="#c0c0c0"/>
<rect x="90" y="442" width="3" height="37" fill="#c0c0c0"/>
<rect x="94" y="442" width="3" height="36" fill="#c0c0c0"/>
<rect x="98" y="442" width="3" height="34" fill="#c0c0c0"/>
<rect x="102" y="442" width="3" height="31" fill="#c0c0c0"/>
<rect x="106" y="442" width="3" height="29" fill="#c0c0c0"/>
<rect x="110" y="442" width="3" height="28" fill="#c0c0c0"/>
<rect x="114" y="442" width="3" height="26" fill="#c0c0c0"/>
<rect x="118" y="442" width="3" height="22" fill="#c0c0c0"/>
<rect x="122" y="442" width="3" height="20" fill="#c0c0c0"/>
<rect x="126" y="442" width="3" height="13" fill="#c0c0c0"/>
<rect x="130" y="442" width="3" height="7" fill="#c0c0c0"/>
<rect x="134" y="442" width="3" height="1" fill="#c0c0c0"/>
<rect x="138" y="437" width="3" height="5" fill="#c0c0c0"/>
<rect x="142" y="432" width="3" height="10" fill="#c0c0c0"/>
<rect x="146" y="427" width="3" height="15" fill="#c0c0c0"/>
<rect x="150" y="425" width="3" height="17" fill="#c0c0c0"/>
<rect x="154" y="424" width="3" height="18" fill="#c0c0c0"/>
<rect x="158" y="424" width="3" height="18" fill="#c0c0c0"/>
<rect x="162" y="424" width="3" height="18" fill="#c0c0c0"/>
<rect x="166" y="423" width="3" height="19" fill="#c0c0c0"/>
<rect x="170" y="422" width="3" height="20" fill="#c0c0c0"/>
<rect x="174" y="422" width="3" height="20" fill="#c0c0c0"/>
<rect x="178" y="423" width="3" height="19" fill="#c0c0c0"/>
<rect x="182" y="423" width="3" height="19" fill="#c0c0c0"/>
<rect x="186" y="423" width="3" height="19" fill="#c0c0c0"/>
<rect x="190" y="421" width="3" height="21" fill="#c0c0c0"/>
<rect x="194" y="421" width="3" height="21" fill="#c0c0c0"/>
<rect x="198" y="422" width="3" height="20" fill="#c0c0c0"/>
<rect x="202" y="423" width="3" height="19" fill="#c0c0c0"/>
<rect x="206" y="425" width="3" height="17" fill="#c0c0c0"/>
<rect x="210" y="427" width="3" height="15" fill="#c0c0c0"/>
<rect x="214" y="428" width="3" height="14" fill="#c0c0c0"/>
<rect x="218" y="426" width="3" height="16" fill="#c0c0c0"/>
<rect x="222" y="426" width="3" height="16" fill="#c0c0c0"/>
<rect x="226" y="429" width="3" height="13" fill="#c0c0c0"/>
<rect x="230" y="430" width="3" height="12" fill="#c0c0c0"/>
<rect x="234" y="430" width="3" height="12" fill="#c0c0c0"/>
<rect x="238" y="431" width="3" height="11" fill="#c0c0c0"/>
<rect x="242" y="426" width="3" height="16" fill="#c0c0c0"/>
<rect x="246" y="427" width="3" height="15" fill="#c0c0c0"/>
<rect x="250" y="430" width="3" height="12" fill="#c0c0c0"/>
<rect x="254" y="433" width="3" height="9" fill="#c0c0c0"/>
<rect x="258" y="435" width="3" height="7" fill="#c0c0c0"/>
<rect x="262" y="437" width="3" height="5" fill="#c0c0c0"/>
<rect x="266" y="439" width="3" height="3" fill="#c0c0c0"/>
<rect x="270" y="440" width="3" height="2" fill="#c0c0c0"/>
<rect x="274" y="439" width="3" height="3" fill="#c0c0c0"/>
<rect x="278" y="438" width="3" height="4" fill="#c0c0c0"/>
<rect x="282" y="437" width="3" height="5" fill="#c0c0c0"/>
<rect x="286" y="437" width="3" height="5" fill="#c0c0c0"/>
<rect x="290" y="437" width="3" height="5" fill="#c0c0c0"/>
<rect x="294" y="438" width="3" height="4" fill="#c0c0c0"/>
<rect x="298" y="438" width="3" height="4" fill="#c0c0c0"/>
<rect x="302" y="436" width="3" height="6" fill="#c0c0c0"/>
<rect x="306" y="436" width="3" height="6" fill="#c0c0c0"/>
<rect x="310" y="434" width="3" height="8" fill="#c0c0c0"/>
<rect x="314" y="433" width="3" height="9" fill="#c0c0c0"/>
<rect x="318" y="434" width="3" height="8" fill="#c0c0c0"/>
<rect x="322" y="437" width="3" height="5" fill="#c0c0c0"/>
<rect x="326" y="438" width="3" height="4" fill="#c0c0c0"/>
<rect x="330" y="438" width="3" height="4" fill="#c0c0c0"/>
<rect x="334" y="441" width="3" height="1" fill="#c0c0c0"/>
<rect x="338" y="442" width="3" height="1" fill="#c0c0c0"/>
<rect x="342" y="442" width="3" height="3" fill="#c0c0c0"/>
<rect x="346" y="442" width="3" height="5" fill="#c0c0c0"/>
<rect x="350" y="442" width="3" height="7" fill="#c0c0c0"/>
<rect x="354" y="442" width="3" height="9" fill="#c0c0c0"/>
<rect x="358" y="442" width="3" height="10" fill="#c0c0c0"/>
<rect x="362" y="442" width="3" height="9" fill="#c0c0c0"/>
<rect x="366" y="442" width="3" height="9" fill="#c0c0c0"/>
<rect x="370" y="442" width="3" height="9" fill="#c0c0c0"/>
<rect x="374" y="442" width="3" height="10" fill="#c0c0c0"/>
<rect x="378" y="442" width="3" height="11" fill="#c0c0c0"/>
<rect x="382" y="442" width="3" height="12" fill="#c0c0c0"/>
<rect x="386" y="442" width="3" height="14" fill="#c0c0c0"/>
<rect x="390" y="442" width="3" height="12" fill="#c0c0c0"/>
<rect x="394" y="442" width="3" height="9" fill="#c0c0c0"/>
<rect x="398" y="442" width="3" height="5" fill="#c0c0c0"/>
<rect x="402" y="442" width="3" height="1" fill="#c0c0c0"/>
<rect x="406" y="442" width="3" height="1" fill="#c0c0c0"/>
<rect x="410" y="442" width="3" height="1" fill="#c0c0c0"/>
<rect x="414" y="442" width="3" height="1" fill="#c0c0c0"/>
<rect x="418" y="442" width="3" height="1" fill="#c0c0c0"/>
<rect x="422" y="441" width="3" height="1" fill="#c0c0c0"/>
<rect x="426" y="439" width="3" height="3" fill="#c0c0c0"/>
<rect x="430" y="441" width="3" height="1" fill="#c0c0c0"/>
<rect x="434" y="442" width="3" height="3" fill="#c0c0c0"/>
<rect x="438" y="442" width="3" height="4" fill="#c0c0c0"/>
<rect x="442" y="442" width="3" height="4" fill="#c0c0c0"/>
<rect x="446" y="442" width="3" height="4" fill="#c0c0c0"/>
<rect x="450" y="442" width="3" height="5" fill="#c0c0c0"/>
<rect x="454" y="442" width="3" height="5" fill="#c0c0c0"/>
<rect x="458" y="442" width="3" height="4" fill="#c0c0c0"/>
<rect x="462" y="442" width="3" height="4" fill="#c0c0c0"/>
<rect x="466" y="442" width="3" height="7" fill="#c0c0c0"/>
<rect x="470" y="442" width="3" height="8" fill="#c0c0c0"/>
<rect x="474" y="442" width="3" height="9" fill="#c0c0c0"/>
<rect x="478" y="442" width="3" height="10" fill="#c0c0c0"/>
<rect x="482" y="442" width="3" height="17" fill="#c0c0c0"/>
<rect x="486" y="442" width="3" height="20" fill="#c0c0c0"/>
<rect x="490" y="442" width="3" height="23" fill="#c0c0c0"/>
<rect x="494" y="442" width="3" height="25" fill="#c0c0c0"/>
<rect x="498" y="442" width="3" height="28" fill="#c0c0c0"/>
<rect x="502" y="442" width="3" height="29" fill="#c0c0c0"/>
<rect x="506" y="442" width="3" height="28" fill="#c0c0c0"/>
<rect x="510" y="442" width="3" height="28" fill="#c0c0c0"/>
<rect x="514" y="442" width="3" height="25" fill="#c0c0c0"/>
<rect x="518" y="442" width="3" height="24" fill="#c0c0c0"/>
<rect x="522" y="442" width="3" height="22" fill="#c0c0c0"/>
<rect x="526" y="442" width="3" height="21" fill="#c0c0c0"/>
<rect x="530" y="442" width="3" height="20" fill="#c0c0c0"/>
<rect x="534" y="442" width="3" height="19" fill="#c0c0c0"/>
<rect x="538" y="442" width="3" height="19" fill="#c0c0c0"/>
<rect x="542" y="442" width="3" height="19" fill="#c0c0c0"/>
<rect x="546" y="442" width="3" height="17" fill="#c0c0c0"/>
<rect x="550" y="442" width="3" height="16" fill="#c0c0c0"/>
<rect x="554" y="442" width="3" height="16" fill="#c0c0c0"/>
<rect x="558" y="442" width="3" height="16" fill="#c0c0c0"/>
<rect x="562" y="442" width="3" height="15" fill="#c0c0c0"/>
<rect x="566" y="442" width="3" height="16" fill="#c0c0c0"/>
<rect x="570" y="442" width="3" height="16" fill="#c0c0c0"/>
<rect x="574" y="442" width="3" height="14" fill="#c0c0c0"/>
<rect x="578" y="442" width="3" height="13" fill="#c0c0c0"/>
<rect x="582" y="442" width="3" height="12" fill="#c0c0c0"/>
<rect x="586" y="442" width="3" height="10" fill="#c0c0c0"/>
<rect x="590" y="442" width="3" height="10" fill="#c0c0c0"/>
<rect x="594" y="442" width="3" height="8" fill="#c0c0c0"/>
<rect x="598" y="442" width="3" height="8" fill="#c0c0c0"/>
<rect x="602" y="442" width="3" height="10" fill="#c0c0c0"/>
<rect x="606" y="442" width="3" height="11" fill="#c0c0c0"/>
<rect x="610" y="442" width="3" height="12" fill="#c0c0c0"/>
<rect x="614" y="442" width="3" height="12" fill="#c0c0c0"/>
<rect x="618" y="442" width="3" height="11" fill="#c0c0c0"/>
<rect x="622" y="442" width="3" height="12" fill="#c0c0c0"/>
<rect x="626" y="442" width="3" height="15" fill="#c0c0c0"/>
<rect x="630" y="442" width="3" height="14" fill="#c0c0c0"/>
<rect x="634" y="442" width="3" height="12" fill="#c0c0c0"/>
<rect x="638" y="442" width="3" height="11" fill="#c0c0c0"/>
<rect x="642" y="442" width="3" height="11" fill="#c0c0c0"/>
<rect x="646" y="442" width="3" height="10" fill="#c0c0c0"/>
<rect x="650" y="442" width="3" height="8" fill="#c0c0c0"/>
<rect x="654" y="442" width="3" height="6" fill="#c0c0c0"/>
<rect x="658" y="442" width="3" height="5" fill="#c0c0c0"/>
<rect x="662" y="442" width="3" height="5" fill="#c0c0c0"/>
<rect x="666" y="442" width="3" height="5" fill="#c0c0c0"/>
<rect x="670" y="442" width="3" height="4" fill="#c0c0c0"/>
<rect x="674" y="442" width="3" height="4" fill="#c0c0c0"/>
<rect x="678" y="442" width="3" height="4" fill="#c0c0c0"/>
<rect x="682" y="442" width="3" height="4" fill="#c0c0c0"/>
<rect x="686" y="442" width="3" height="5" fill="#c0c0c0"/>
<rect x="690" y="442" width="3" height="4" fill="#c0c0c0"/>
<rect x="694" y="442" width="3" height="5" fill="#c0c0c0"/>
<rect x="698" y="442" width="3" height="5" fill="#c0c0c0"/>
<rect x="702" y="442" width="3" height="4" fill="#c0c0c0"/>
<rect x="706" y="442" width="3" height="4" fill="#c0c0c0"/>
<rect x="710" y="442" width="3" height="1" fill="#c0c0c0"/>
<rect x="714" y="442" width="3" height="1" fill="#c0c0c0"/>
<rect x="718" y="442" width="3" height="1" fill="#c0c0c0"/>
<rect x="722" y="442" width="3" height="1" fill="#c0c0c0"/>
<rect x="726" y="442" width="3" height="2" fill="#c0c0c0"/>
<rect x="730" y="442" width="3" height="3" fill="#c0c0c0"/>
<rect x="734" y="442" width="3" height="5" fill="#c0c0c0"/>
<rect x="738" y="442" width="3" height="7" fill="#c0c0c0"/>
<rect x="742" y="442" width="3" height="7" fill="#c0c0c0"/>
<rect x="746" y="442" width="3" height="8" fill="#c0c0c0"/>
<rect x="750" y="442" width="3" height="9" fill="#c0c0c0"/>
<rect x="754" y="442" width="3" height="11" fill="#c0c0c0"/>
<rect x="758" y="442" width="3" height="13" fill="#c0c0c0"/>
<rect x="762" y="442" width="3" height="15" fill="#c0c0c0"/>
<rect x="766" y="442" width="3" height="15" fill="#c0c0c0"/>
<rect x="770" y="442" width="3" height="12" fill="#c0c0c0"/>
<rect x="774" y="442" width="3" height="9" fill="#c0c0c0"/>
<rect x="778" y="442" width="3" height="6" fill="#c0c0c0"/>
<rect x="782" y="442" width="3" height="4" fill="#c0c0c0"/>
<rect x="786" y="442" width="3" height="4" fill="#c0c0c0"/>
<rect x="790" y="442" width="3" height="5" fill="#c0c0c0"/>
<rect x="794" y="442" width="3" height="4" fill="#c0c0c0"/>
<rect x="798" y="442" width="3" height="3" fill="#c0c0c0"/>
<rect x="802" y="442" width="3" height="2" fill="#c0c0c0"/>
<rect x="806" y="442" width="3" height="2" fill="#c0c0c0"/>
<rect x="810" y="442" width="3" height="1" fill="#c0c0c0"/>
<rect x="814" y="442" width="3" height="1" fill="#c0c0c0"/>
<rect x="818" y="442" width="3" height="1" fill="#c0c0c0"/>
<rect x="822" y="442" width="3" height="3" fill="#c0c0c0"/>
<rect x="826" y="442" width="3" height="6" fill="#c0c0c0"/>
<rect x="830" y="442" width="3" height="8" fill="#c0c0c0"/>
<rect x="834" y="442" width="3" height="10" fill="#c0c0c0"/>
<rect x="838" y="442" width="3" height="12" fill="#c0c0c0"/>
<rect x="842" y="442" width="3" height="13" fill="#c0c0c0"/>
<rect x="846" y="442" width="3" height="15" fill="#c0c0c0"/>
<rect x="850" y="442" width="3" height="16" fill="#c0c0c0"/>
<rect x="854" y="442" width="3" height="17" fill="#c0c0c0"/>
<rect x="858" y="442" width="3" height="18" fill="#c0c0c0"/>
<rect x="862" y="442" width="3" height="18" fill="#c0c0c0"/>
<rect x="866" y="442" width="3" height="17" fill="#c0c0c0"/>
<rect x="870" y="442" width="3" height="16" fill="#c0c0c0"/>
<rect x="874" y="442" width="3" height="15" fill="#c0c0c0"/>
<rect x="878" y="442" width="3" height="14" fill="#c0c0c0"/>
<rect x="882" y="442" width="3" height="13" fill="#c0c0c0"/>
<rect x="886" y="442" width="3" height="12" fill="#c0c0c0"/>
<rect x="890" y="442" width="3" height="11" fill="#c0c0c0"/>
<rect x="894" y="442" width="3" height="6" fill="#c0c0c0"/>
<rect x="898" y="441" width="3" height="1" fill="#c0c0c0"/>
<rect x="902" y="436" width="3" height="6" fill="#c0c0c0"/>
<rect x="906" y="434" width="3" height="8" fill="#c0c0c0"/>
<rect x="910" y="433" width="3" height="9" fill="#c0c0c0"/>
<rect x="914" y="431" width="3" height="11" fill="#c0c0c0"/>
<rect x="918" y="430" width="3" height="12" fill="#c0c0c0"/>
<rect x="922" y="429" width="3" height="13" fill="#c0c0c0"/>
</g>
<path class="c" fill="#ff0000" d="M3 458h1v1h-1zM4 459h1v1h-1zM5 459h1v1h-1zM6 460h1v1h-1zM7 460h1v1h-1zM8 460h1v1h-1zM9 461h1v1h-1zM10 461h1v1h-1zM11 461h1v1h-1zM12 461h1v1h-1zM13 462h1v1h-1zM14 462h1v1h-1zM15 462h1v1h-1zM16 463h1v1h-1zM17 463h1v1h-1zM18 464h1v1h-1zM19 464h1v1h-1zM20 464h1v1h-1zM21 465h1v1h-1zM22 465h1v1h-1zM23 465h1v1h-1zM24 466h1v1h-1zM25 466h1v1h-1zM26 467h1v1h-1zM27 467h1v1h-1zM28 467h1v1h-1zM29 468h1v1h-1zM30 468h1v1h-1zM31 468h1v1h-1zM32 468h1v1h-1zM33 469h1v1h-1zM34 469h1v1h-1zM35 469h1v1h-1zM36 469h1v1h-1zM37 469h1v1h-1zM38 469h1v1h-1zM39 469h1v1h-1zM40 470h1v1h-1zM41 470h1v1h-1zM42 471h1v1h-1zM43 471h1v1h-1zM44 471h1v1h-1zM45 472h1v1h-1zM46 472h1v1h-1zM47 472h1v1h-1zM48 472h1v1h-1zM49 472h1v1h-1zM50 472h1v1h-1zM51 472h1v1h-1zM52 472h1v1h-1zM53 471h1v1h-1zM54 471h1v1h-1zM55 471h1v1h-1zM56 471h1v1h-1zM57 471h1v1h-1zM58 471h1v1h-1zM59 471h1v1h-1zM60 471h1v1h-1zM61 471h1v1h-1zM62 471h1v1h-1zM63 471h1v1h-1zM64 471h1v1h-1zM65 471h1v1h-1zM66 471h1v1h-1zM67 471h1v1h-1zM68 471h1v1h-1zM69 472h1v1h-1zM70 472h1v1h-1zM71 472h1v1h-1zM72 472h1v1h-1zM73 473h1v1h-1zM74 473h1v1h-1zM75 473h1v1h-1zM76 474h1v1h-1zM77 474h1v1h-1zM78 475h1v1h-1zM79 475h1v1h-1zM80 475h1v1h-1zM81 476h1v1h-1zM82 476h1v1h-1zM83 476h1v1h-1zM84 477h1v1h-1zM85 477h1v1h-1zM86 478h1v1h-1zM87 478h1v1h-1zM88 478h1v1h-1zM89 479h1v1h-1zM90 479h1v1h-1zM91 479h1v1h-1zM92 479h1v1h-1zM93 480h1v1h-1zM94 480h1v1h-1zM95 480h1v1h-1zM96 480h1v1h-1zM97 480h1v1h-1zM98 480h1v1h-1zM99 480h1v1h-1zM100 480h1v1h-1zM101 480h1v1h-1zM102 480h1v1h-1zM103 480h1v1h-1zM104 480h1v1h-1zM105 479h1v1h-1zM106 479h1v1h-1zM107 479h1v1h-1zM108 479h1v1h-1zM109 478h1v1h-1zM110 478h1v1h-1zM111 478h1v1h-1zM112 477h1v1h-1zM113 477h1v1h-1zM114 476h1v1h-1zM115 476h1v1h-1zM116 475h1v1h-1zM117 475h1v1h-1zM118 474h1v1h-1zM119 474h1v1h-1zM120 473h1v1h-1zM121 472h1v1h-1zM122 472h1v1h-1zM123 471h1v1h-1zM124 470h1v1h-1zM125 470h1v1h-1zM126 469h1v1h-1zM127 469h1v1h-1zM128 468h1v1h-1zM129 467h1v1h-1zM130 466h1v1h-1zM131 465h1v1h-1zM132 464h1v1h-1zM133 463h1v1h-1zM134 463h1v1h-1zM135 462h1v1h-1zM136 461h1v1h-1zM137 460h1v1h-1zM138 459h1v1h-1zM139 458h1v1h-1zM140 457h1v1h-1zM141 455h1v2h-1zM142 454h1v1h-1zM143 453h1v1h-1zM144 452h1v1h-1zM145 451h1v1h-1zM146 450h1v1h-1zM147 449h1v1h-1zM148 448h1v1h-1zM149 446h1v2h-1zM150 445h1v1h-1zM151 444h1v1h-1zM152 443h1v1h-1zM153 441h1v2h-1zM154 440h1v1h-1zM155 439h1v1h-1zM156 438h1v1h-1zM157 437h1v1h-1zM158 436h1v1h-1zM159 435h1v1h-1zM160 434h1v1h-1zM161 433h1v1h-1zM162 433h1v1h-1zM163 432h1v1h-1zM164 431h1v1h-1zM165 430h1v1h-1zM166 430h1v1h-1zM167 429h1v1h-1zM168 428h1v1h-1zM169 428h1v1h-1zM170 427h1v1h-1zM171 427h1v1h-1zM172 426h1v1h-1zM173 426h1v1h-1zM174 425h1v1h-1zM175 425h1v1h-1zM176 425h1v1h-1zM177 424h1v1h-1zM178 424h1v1h-1zM179 424h1v1h-1zM180 424h1v1h-1zM181 423h1v1h-1zM182 423h1v1h-1zM183 423h1v1h-1zM184 423h1v1h-1zM185 423h1v1h-1zM186 423h1v1h-1zM187 423h1v1h-1zM188 423h1v1h-1zM189 423h1v1h-1zM190 423h1v1h-1zM191 423h1v1h-1zM192 423h1v1h-1zM193 423h1v1h-1zM194 423h1v1h-1zM195 423h1v1h-1zM196 423h1v1h-1zM197 422h1v1h-1zM198 422h1v1h-1zM199 422h1v1h-1zM200 422h1v1h-1zM201 422h1v1h-1zM202 422h1v1h-1zM203 422h1v1h-1zM204 422h1v1h-1zM205 423h1v1h-1zM206 423h1v1h-1zM207 423h1v1h-1zM208 423h1v1h-1zM209 423h1v1h-1zM210 423h1v1h-1zM211 423h1v1h-1zM212 423h1v1h-1zM213 424h1v1h-1zM214 424h1v1h-1zM215 424h1v1h-1zM216 424h1v1h-1zM217 424h1v1h-1zM218 424h1v1h-1zM219 424h1v1h-1zM220 424h1v1h-1zM221 424h1v1h-1zM222 424h1v1h-1zM223 424h1v1h-1zM224 424h1v1h-1zM225 425h1v1h-1zM226 425h1v1h-1zM227 425h1v1h-1zM228 425h1v1h-1zM229 426h1v1h-1zM230 426h1v1h-1zM231 426h1v1h-1zM232 426h1v1h-1zM233 427h1v1h-1zM234 427h1v1h-1zM235 427h1v1h-1zM236 427h1v1h-1zM237 428h1v1h-1zM238 428h1v1h-1zM239 428h1v1h-1zM240 428h1v1h-1zM241 428h1v1h-1zM242 428h1v1h-1zM243 428h1v1h-1zM244 428h1v1h-1zM245 428h1v1h-1zM246 428h1v1h-1zM247 428h1v1h-1zM248 428h1v1h-1zM249 428h1v1h-1zM250 428h1v1h-1zM251 428h1v1h-1zM252 428h1v1h-1zM253 429h1v1h-1zM254 429h1v1h-1zM255 429h1v1h-1zM256 429h1v1h-1zM257 430h1v1h-1zM258 430h1v1h-1zM259 430h1v1h-1zM260 430h1v1h-1zM261 431h1v1h-1zM262 431h1v1h-1zM263 431h1v1h-1zM264 431h1v1h-1zM265 432h1v1h-1zM266 432h1v1h-1zM267 432h1v1h-1zM268 432h1v1h-1zM269 433h1v1h-1zM270 433h1v1h-1zM271 433h1v1h-1zM272 433h1v1h-1zM273 434h1v1h-1zM274 434h1v1h-1zM275 434h1v1h-1zM276 434h1v1h-1zM277 435h1v1h-1zM278 435h1v1h-1zM279 435h1v1h-1zM280 435h1v1h-1zM281 436h1v1h-1zM282 436h1v1h-1zM283 436h1v1h-1zM284 436h1v1h-1zM285 437h1v1h-1zM286 437h1v1h-1zM287 437h1v1h-1zM288 437h1v1h-1zM289 438h1v1h-1zM290 438h1v1h-1zM291 438h1v1h-1zM292 438h1v1h-1zM293 438h1v1h-1zM294 438h1v1h-1zM295 438h1v1h-1zM296 438h1v1h-1zM297 438h1v1h-1zM298 438h1v1h-1zM299 438h1v1h-1zM300 438h1v1h-1zM301 438h1v1h-1zM302 438h1v1h-1zM303 438h1v1h-1zM304 438h1v1h-1zM305 437h1v1h-1zM306 437h1v1h-1zM307 437h1v1h-1zM308 437h1v1h-1zM309 437h1v1h-1zM310 437h1v1h-1zM311 437h1v1h-1zM312 437h1v1h-1zM313 436h1v1h-1zM314 436h1v1h-1zM315 436h1v1h-1zM316 436h1v1h-1zM317 436h1v1h-1zM318 436h1v1h-1zM319 436h1v1h-1zM320 436h1v1h-1zM321 436h1v1h-1zM322 436h1v1h-1zM323 436h1v1h-1zM324 436h1v1h-1zM325 436h1v1h-1zM326 436h1v1h-1zM327 436h1v1h-1zM328 436h1v1h-1zM329 436h1v1h-1zM330 436h1v1h-1zM331 436h1v1h-1zM332 436h1v1h-1zM333 436h1v1h-1zM334 436h1v1h-1zM335 436h1v1h-1zM336 436h1v1h-1zM337 437h1v1h-1zM338 437h1v1h-1zM339 437h1v1h-1zM340 437h1v1h-1zM341 438h1v1h-1zM342 438h1v1h-1zM343 438h1v1h-1zM344 438h1v1h-1zM345 439h1v1h-1zM346 439h1v1h-1zM347 439h1v1h-1zM348 440h1v1h-1zM349 440h1v1h-1zM350 441h1v1h-1zM351 441h1v1h-1zM352 442h1v1h-1zM353 442h1v1h-1zM354 443h1v1h-1zM355 443h1v1h-1zM356 444h1v1h-1zM357 444h1v1h-1zM358 445h1v1h-1zM359 445h1v1h-1zM360 445h1v1h-1zM361 446h1v1h-1zM362 446h1v1h-1zM363 446h1v1h-1zM364 447h1v1h-1zM365 447h1v1h-1zM366 448h1v1h-1zM367 448h1v1h-1zM368 448h1v1h-1zM369 449h1v1h-1zM370 449h1v1h-1zM371 449h1v1h-1zM372 449h1v1h-1zM373 450h1v1h-1zM374 450h1v1h-1zM375 450h1v1h-1zM376 450h1v1h-1zM377 451h1v1h-1zM378 451h1v1h-1zM379 451h1v1h-1zM380 451h1v1h-1zM381 452h1v1h-1zM382 452h1v1h-1zM383 452h1v1h-1zM384 452h1v1h-1zM385 452h1v1h-1zM386 452h1v1h-1zM387 452h1v1h-1zM388 452h1v1h-1zM389 453h1v1h-1zM390 453h1v1h-1zM391 453h1v1h-1zM392 453h1v1h-1zM393 453h1v1h-1zM394 453h1v1h-1zM395 453h1v1h-1zM396 453h1v1h-1zM397 452h1v1h-1zM398 452h1v1h-1zM399 452h1v1h-1zM400 452h1v1h-1zM401 451h1v1h-1zM402 451h1v1h-1zM403 451h1v1h-1zM404 451h1v1h-1zM405 450h1v1h-1zM406 450h1v1h-1zM407 450h1v1h-1zM408 450h1v1h-1zM409 449h1v1h-1zM410 449h1v1h-1zM411 449h1v1h-1zM412 449h1v1h-1zM413 448h1v1h-1zM414 448h1v1h-1zM415 448h1v1h-1zM416 447h1v1h-1zM417 447h1v1h-1zM418 446h1v1h-1zM419 446h1v1h-1zM420 446h1v1h-1zM421 445h1v1h-1zM422 445h1v1h-1zM423 445h1v1h-1zM424 444h1v1h-1zM425 444h1v1h-1zM426 443h1v1h-1zM427 443h1v1h-1zM428 443h1v1h-1zM429 442h1v1h-1zM430 442h1v1h-1zM431 442h1v1h-1zM432 442h1v1h-1zM433 442h1v1h-1zM434 442h1v1h-1zM435 442h1v1h-1zM436 442h1v1h-1zM437 442h1v1h-1zM438 442h1v1h-1zM439 442h1v1h-1zM440 442h1v1h-1zM441 443h1v1h-1zM442 443h1v1h-1zM443 443h1v1h-1zM444 443h1v1h-1zM445 443h1v1h-1zM446 443h1v1h-1zM447 443h1v1h-1zM448 443h1v1h-1zM449 444h1v1h-1zM450 444h1v1h-1zM451 444h1v1h-1zM452 444h1v1h-1zM453 444h1v1h-1zM454 444h1v1h-1zM455 444h1v1h-1zM456 444h1v1h-1zM457 445h1v1h-1zM458 445h1v1h-1zM459 445h1v1h-1zM460 445h1v1h-1zM461 446h1v1h-1zM462 446h1v1h-1zM463 446h1v1h-1zM464 446h1v1h-1zM465 446h1v1h-1zM466 446h1v1h-1zM467 446h1v1h-1zM468 446h1v1h-1zM469 447h1v1h-1zM470 447h1v1h-1zM471 447h1v1h-1zM472 447h1v1h-1zM473 448h1v1h-1zM474 448h1v1h-1zM475 448h1v1h-1zM476 448h1v1h-1zM477 448h1v1h-1zM478 448h1v1h-1zM479 448h1v1h-1zM480 449h1v1h-1zM481 449h1v1h-1zM482 450h1v1h-1zM483 450h1v1h-1zM484 450h1v1h-1zM485 451h1v1h-1zM486 451h1v1h-1zM487 451h1v1h-1zM488 452h1v1h-1zM489 452h1v1h-1zM490 453h1v1h-1zM491 453h1v1h-1zM492 454h1v1h-1zM493 455h1v1h-1zM494 455h1v1h-1zM495 456h1v1h-1zM496 457h1v1h-1zM497 457h1v1h-1zM498 458h1v1h-1zM499 458h1v1h-1zM500 459h1v1h-1zM501 460h1v1h-1zM502 460h1v1h-1zM503 461h1v1h-1zM504 462h1v1h-1zM505 462h1v1h-1zM506 463h1v1h-1zM507 463h1v1h-1zM508 464h1v1h-1zM509 464h1v1h-1zM510 465h1v1h-1zM511 465h1v1h-1zM512 466h1v1h-1zM513 466h1v1h-1zM514 467h1v1h-1zM515 467h1v1h-1zM516 467h1v1h-1zM517 468h1v1h-1zM518 468h1v1h-1zM519 468h1v1h-1zM520 468h1v1h-1zM521 468h1v1h-1zM522 468h1v1h-1zM523 468h1v1h-1zM524 468h1v1h-1zM525 468h1v1h-1zM526 468h1v1h-1zM527 468h1v1h-1zM528 468h1v1h-1zM529 467h1v1h-1zM530 467h1v1h-1zM531 467h1v1h-1zM532 467h1v1h-1zM533 466h1v1h-1zM534 466h1v1h-1zM535 466h1v1h-1zM536 466h1v1h-1zM537 465h1v1h-1zM538 465h1v1h-1zM539 465h1v1h-1zM540 465h1v1h-1zM541 464h1v1h-1zM542 464h1v1h-1zM543 464h1v1h-1zM544 464h1v1h-1zM545 463h1v1h-1zM546 463h1v1h-1zM547 463h1v1h-1zM548 463h1v1h-1zM549 462h1v1h-1zM550 462h1v1h-1zM551 462h1v1h-1zM552 462h1v1h-1zM553 461h1v1h-1zM554 461h1v1h-1zM555 461h1v1h-1zM556 461h1v1h-1zM557 460h1v1h-1zM558 460h1v1h-1zM559 460h1v1h-1zM560 460h1v1h-1zM561 460h1v1h-1zM562 460h1v1h-1zM563 460h1v1h-1zM564 460h1v1h-1zM565 459h1v1h-1zM566 459h1v1h-1zM567 459h1v1h-1zM568 459h1v1h-1zM569 459h1v1h-1zM570 459h1v1h-1zM571 459h1v1h-1zM572 459h1v1h-1zM573 458h1v1h-1zM574 458h1v1h-1zM575 458h1v1h-1zM576 458h1v1h-1zM577 458h1v1h-1zM578 458h1v1h-1zM579 458h1v1h-1zM580 458h1v1h-1zM581 457h1v1h-1zM582 457h1v1h-1zM583 457h1v1h-1zM584 457h1v1h-1zM585 457h1v1h-1zM586 457h1v1h-1zM587 457h1v1h-1zM588 457h1v1h-1zM589 456h1v1h-1zM590 456h1v1h-1zM591 456h1v1h-1zM592 456h1v1h-1zM593 455h1v1h-1zM594 455h1v1h-1zM595 455h1v1h-1zM596 455h1v1h-1zM597 454h1v1h-1zM598 454h1v1h-1zM599 454h1v1h-1zM600 454h1v1h-1zM601 453h1v1h-1zM602 453h1v1h-1zM603 453h1v1h-1zM604 453h1v1h-1zM605 453h1v1h-1zM606 453h1v1h-1zM607 453h1v1h-1zM608 453h1v1h-1zM609 452h1v1h-1zM610 452h1v1h-1zM611 452h1v1h-1zM612 452h1v1h-1zM613 452h1v1h-1zM614 452h1v1h-1zM615 452h1v1h-1zM616 452h1v1h-1zM617 452h1v1h-1zM618 452h1v1h-1zM619 452h1v1h-1zM620 452h1v1h-1zM621 452h1v1h-1zM622 452h1v1h-1zM623 452h1v1h-1zM624 452h1v1h-1zM625 453h1v1h-1zM626 453h1v1h-1zM627 453h1v1h-1zM628 453h1v1h-1zM629 454h1v1h-1zM630 454h1v1h-1zM631 454h1v1h-1zM632 454h1v1h-1zM633 454h1v1h-1zM634 454h1v1h-1zM635 454h1v1h-1zM636 454h1v1h-1zM637 454h1v1h-1zM638 454h1v1h-1zM639 454h1v1h-1zM640 454h1v1h-1zM641 454h1v1h-1zM642 454h1v1h-1zM643 454h1v1h-1zM644 454h1v1h-1zM645 454h1v1h-1zM646 454h1v1h-1zM647 454h1v1h-1zM648 454h1v1h-1zM649 454h1v1h-1zM650 454h1v1h-1zM651 454h1v1h-1zM652 454h1v1h-1zM653 453h1v1h-1zM654 453h1v1h-1zM655 453h1v1h-1zM656 453h1v1h-1zM657 452h1v1h-1zM658 452h1v1h-1zM659 452h1v1h-1zM660 452h1v1h-1zM661 451h1v1h-1zM662 451h1v1h-1zM663 451h1v1h-1zM664 451h1v1h-1zM665 450h1v1h-1zM666 450h1v1h-1zM667 450h1v1h-1zM668 450h1v1h-1zM669 449h1v1h-1zM670 449h1v1h-1zM671 449h1v1h-1zM672 449h1v1h-1zM673 448h1v1h-1zM674 448h1v1h-1zM675 448h1v1h-1zM676 448h1v1h-1zM677 448h1v1h-1zM678 448h1v1h-1zM679 448h1v1h-1zM680 448h1v1h-1zM681 447h1v1h-1zM682 447h1v1h-1zM683 447h1v1h-1zM684 447h1v1h-1zM685 447h1v1h-1zM686 447h1v1h-1zM687 447h1v1h-1zM688 447h1v1h-1zM689 446h1v1h-1zM690 446h1v1h-1zM691 446h1v1h-1zM692 446h1v1h-1zM693 446h1v1h-1zM694 446h1v1h-1zM695 446h1v1h-1zM696 446h1v1h-1zM697 446h1v1h-1zM698 446h1v1h-1zM699 446h1v1h-1zM700 446h1v1h-1zM701 446h1v1h-1zM702 446h1v1h-1zM703 446h1v1h-1zM704 446h1v1h-1zM705 446h1v1h-1zM706 446h1v1h-1zM707 446h1v1h-1zM708 446h1v1h-1zM709 446h1v1h-1zM710 446h1v1h-1zM711 446h1v1h-1zM712 446h1v1h-1zM713 446h1v1h-1zM714 446h1v1h-1zM715 446h1v1h-1zM716 446h1v1h-1zM717 445h1v1h-1zM718 445h1v1h-1zM719 445h1v1h-1zM720 445h1v1h-1zM721 445h1v1h-1zM722 445h1v1h-1zM723 445h1v1h-1zM724 445h1v1h-1zM725 445h1v1h-1zM726 445h1v1h-1zM727 445h1v1h-1zM728 445h1v1h-1zM729 444h1v1h-1zM730 444h1v1h-1zM731 444h1v1h-1zM732 444h1v1h-1zM733 444h1v1h-1zM734 444h1v1h-1zM735 444h1v1h-1zM736 444h1v1h-1zM737 445h1v1h-1zM738 445h1v1h-1zM739 445h1v1h-1zM740 445h1v1h-1zM741 445h1v1h-1zM742 445h1v1h-1zM743 445h1v1h-1zM744 445h1v1h-1zM745 446h1v1h-1zM746 446h1v1h-1zM747 446h1v1h-1zM748 446h1v1h-1zM749 447h1v1h-1zM750 447h1v1h-1zM751 447h1v1h-1zM752 447h1v1h-1zM753 448h1v1h-1zM754 448h1v1h-1zM755 448h1v1h-1zM756 448h1v1h-1zM757 449h1v1h-1zM758 449h1v1h-1zM759 449h1v1h-1zM760 450h1v1h-1zM761 450h1v1h-1zM762 451h1v1h-1zM763 451h1v1h-1zM764 451h1v1h-1zM765 452h1v1h-1zM766 452h1v1h-1zM767 452h1v1h-1zM768 452h1v1h-1zM769 453h1v1h-1zM770 453h1v1h-1zM771 453h1v1h-1zM772 453h1v1h-1zM773 453h1v1h-1zM774 453h1v1h-1zM775 453h1v1h-1zM776 453h1v1h-1zM777 453h1v1h-1zM778 453h1v1h-1zM779 453h1v1h-1zM780 453h1v1h-1zM781 453h1v1h-1zM782 453h1v1h-1zM783 453h1v1h-1zM784 453h1v1h-1zM785 452h1v1h-1zM786 452h1v1h-1zM787 452h1v1h-1zM788 452h1v1h-1zM789 451h1v1h-1zM790 451h1v1h-1zM791 451h1v1h-1zM792 451h1v1h-1zM793 450h1v1h-1zM794 450h1v1h-1zM795 450h1v1h-1zM796 450h1v1h-1zM797 449h1v1h-1zM798 449h1v1h-1zM799 449h1v1h-1zM800 448h1v1h-1zM801 448h1v1h-1zM802 447h1v1h-1zM803 447h1v1h-1zM804 447h1v1h-1zM805 446h1v1h-1zM806 446h1v1h-1zM807 446h1v1h-1zM808 446h1v1h-1zM809 445h1v1h-1zM810 445h1v1h-1zM811 445h1v1h-1zM812 445h1v1h-1zM813 445h1v1h-1zM814 445h1v1h-1zM815 445h1v1h-1zM816 445h1v1h-1zM817 444h1v1h-1zM818 444h1v1h-1zM819 444h1v1h-1zM820 444h1v1h-1zM821 444h1v1h-1zM822 444h1v1h-1zM823 444h1v1h-1zM824 444h1v1h-1zM825 444h1v1h-1zM826 444h1v1h-1zM827 444h1v1h-1zM828 444h1v1h-1zM829 445h1v1h-1zM830 445h1v1h-1zM831 445h1v1h-1zM832 445h1v1h-1zM833 446h1v1h-1zM834 446h1v1h-1zM835 446h1v1h-1zM836 446h1v1h-1zM837 447h1v1h-1zM838 447h1v1h-1zM839 447h1v1h-1zM840 447h1v1h-1zM841 448h1v1h-1zM842 448h1v1h-1zM843 448h1v1h-1zM844 449h1v1h-1zM845 449h1v1h-1zM846 450h1v1h-1zM847 450h1v1h-1zM848 450h1v1h-1zM849 451h1v1h-1zM850 451h1v1h-1zM851 451h1v1h-1zM852 452h1v1h-1zM853 452h1v1h-1zM854 453h1v1h-1zM855 453h1v1h-1zM856 454h1v1h-1zM857 454h1v1h-1zM858 455h1v1h-1zM859 455h1v1h-1zM860 455h1v1h-1zM861 456h1v1h-1zM862 456h1v1h-1zM863 456h1v1h-1zM864 456h1v1h-1zM865 457h1v1h-1zM866 457h1v1h-1zM867 457h1v1h-1zM868 457h1v1h-1zM869 458h1v1h-1zM870 458h1v1h-1zM871 458h1v1h-1zM872 458h1v1h-1zM873 458h1v1h-1zM874 458h1v1h-1zM875 458h1v1h-1zM876 458h1v1h-1zM877 458h1v1h-1zM878 458h1v1h-1zM879 458h1v1h-1zM880 458h1v1h-1zM881 458h1v1h-1zM882 458h1v1h-1zM883 458h1v1h-1zM884 458h1v1h-1zM885 458h1v1h-1zM886 458h1v1h-1zM887 458h1v1h-1zM888 458h1v1h-1zM889 457h1v1h-1zM890 457h1v1h-1zM891 457h1v1h-1zM892 457h1v1h-1zM893 456h1v1h-1zM894 456h1v1h-1zM895 456h1v1h-1zM896 455h1v1h-1zM897 455h1v1h-1zM898 454h1v1h-1zM899 454h1v1h-1zM900 453h1v1h-1zM901 452h1v1h-1zM902 452h1v1h-1zM903 451h1v1h-1zM904 450h1v1h-1zM905 449h1v1h-1zM906 449h1v1h-1zM907 448h1v1h-1zM908 447h1v1h-1zM909 447h1v1h-1zM910 446h1v1h-1zM911 446h1v1h-1zM912 445h1v1h-1zM913 444h1v1h-1zM914 444h1v1h-1zM915 443h1v1h-1zM916 442h1v1h-1zM917 441h1v1h-1zM918 441h1v1h-1zM919 440h1v1h-1zM920 439h1v1h-1zM921 438h1v1h-1zM922 438h1v1h-1zM923 437h1v1h-1z"/>
</g>
<text x="7.5" y="430" font-size="10.2" fill="#000" font-weight="400" text-anchor="start" textLength="147.2" lengthAdjust="spacingAndGlyphs" >MACD(12,26,9) 0.009065 0.003163</text>
<g class="c">
<rect x="1166" y="418" width="2" height="1" fill="#000"/>
<rect x="1166" y="442" width="2" height="1" fill="#000"/>
<rect x="1166" y="487" width="2" height="1" fill="#000"/>
</g>
<text x="1168.6" y="427.3" font-size="10.2" fill="#000" font-weight="400" text-anchor="start" textLength="40.5" lengthAdjust="spacingAndGlyphs" >0.01658</text>
<text x="1168.6" y="446.3" font-size="10.2" fill="#000" font-weight="400" text-anchor="start" textLength="18.3" lengthAdjust="spacingAndGlyphs" >0.00</text>
<text x="1168.6" y="486" font-size="10.2" fill="#000" font-weight="400" text-anchor="start" textLength="43.5" lengthAdjust="spacingAndGlyphs" >-0.03142</text>
<g clip-path="url(#clipRsi)">
<g class="c">
<line x1="-2" y1="513.5" x2="1165" y2="513.5" stroke="#a9a9a9" stroke-width="1" stroke-dasharray="3,3"/>
<line x1="-2" y1="542.5" x2="1165" y2="542.5" stroke="#a9a9a9" stroke-width="1" stroke-dasharray="3,3"/>
</g>
<path class="c" fill="#1e90ff" d="M3 533h1v1h-1zM4 533h1v1h-1zM5 533h1v1h-1zM6 533h1v1h-1zM7 533h1v1h-1zM8 534h1v1h-1zM9 535h1v1h-1zM10 536h1v1h-1zM11 537h1v1h-1zM12 538h1v2h-1zM13 540h1v2h-1zM14 542h1v2h-1zM15 544h1v2h-1zM16 545h1v1h-1zM17 544h1v1h-1zM18 544h1v1h-1zM19 544h1v1h-1zM20 543h1v1h-1zM21 542h1v1h-1zM22 542h1v1h-1zM23 541h1v1h-1zM24 539h1v2h-1zM25 537h1v2h-1zM26 535h1v2h-1zM27 533h1v2h-1zM28 534h1v1h-1zM29 534h1v1h-1zM30 535h1v1h-1zM31 535h1v1h-1zM32 535h1v1h-1zM33 536h1v1h-1zM34 536h1v1h-1zM35 536h1v1h-1zM36 536h1v1h-1zM37 536h1v1h-1zM38 536h1v1h-1zM39 536h1v1h-1zM40 537h1v1h-1zM41 538h1v1h-1zM42 538h1v1h-1zM43 539h1v1h-1zM44 538h1v1h-1zM45 536h1v2h-1zM46 535h1v1h-1zM47 534h1v1h-1zM48 534h1v1h-1zM49 535h1v1h-1zM50 535h1v1h-1zM51 535h1v1h-1zM52 535h1v1h-1zM53 534h1v1h-1zM54 534h1v1h-1zM55 534h1v1h-1zM56 535h1v1h-1zM57 536h1v1h-1zM58 537h1v1h-1zM59 538h1v1h-1zM60 538h1v1h-1zM61 539h1v1h-1zM62 539h1v1h-1zM63 539h1v1h-1zM64 540h1v1h-1zM65 541h1v1h-1zM66 541h1v1h-1zM67 542h1v1h-1zM68 542h1v1h-1zM69 543h1v1h-1zM70 543h1v1h-1zM71 543h1v1h-1zM72 544h1v1h-1zM73 545h1v1h-1zM74 545h1v1h-1zM75 546h1v1h-1zM76 545h1v1h-1zM77 544h1v1h-1zM78 544h1v1h-1zM79 543h1v1h-1zM80 542h1v1h-1zM81 541h1v1h-1zM82 540h1v1h-1zM83 539h1v1h-1zM84 539h1v1h-1zM85 538h1v1h-1zM86 538h1v1h-1zM87 538h1v1h-1zM88 537h1v1h-1zM89 536h1v1h-1zM90 535h1v1h-1zM91 534h1v1h-1zM92 535h1v1h-1zM93 535h1v1h-1zM94 536h1v1h-1zM95 536h1v1h-1zM96 536h1v1h-1zM97 536h1v1h-1zM98 536h1v1h-1zM99 536h1v1h-1zM100 535h1v1h-1zM101 534h1v1h-1zM102 533h1v1h-1zM103 532h1v1h-1zM104 533h1v1h-1zM105 534h1v1h-1zM106 534h1v1h-1zM107 535h1v1h-1zM108 535h1v1h-1zM109 535h1v1h-1zM110 535h1v1h-1zM111 535h1v1h-1zM112 534h1v1h-1zM113 533h1v1h-1zM114 533h1v1h-1zM115 532h1v1h-1zM116 531h1v1h-1zM117 530h1v1h-1zM118 530h1v1h-1zM119 529h1v1h-1zM120 529h1v1h-1zM121 529h1v1h-1zM122 529h1v1h-1zM123 529h1v1h-1zM124 527h1v2h-1zM125 525h1v2h-1zM126 523h1v2h-1zM127 522h1v1h-1zM128 521h1v1h-1zM129 520h1v1h-1zM130 520h1v1h-1zM131 519h1v1h-1zM132 519h1v1h-1zM133 518h1v1h-1zM134 518h1v1h-1zM135 518h1v1h-1zM136 518h1v1h-1zM137 517h1v1h-1zM138 517h1v1h-1zM139 517h1v1h-1zM140 516h1v1h-1zM141 516h1v1h-1zM142 515h1v1h-1zM143 515h1v1h-1zM144 515h1v1h-1zM145 515h1v1h-1zM146 515h1v1h-1zM147 515h1v1h-1zM148 516h1v1h-1zM149 516h1v1h-1zM150 517h1v1h-1zM151 517h1v1h-1zM152 518h1v1h-1zM153 519h1v1h-1zM154 520h1v1h-1zM155 521h1v1h-1zM156 521h1v1h-1zM157 521h1v1h-1zM158 521h1v1h-1zM159 521h1v1h-1zM160 521h1v1h-1zM161 520h1v1h-1zM162 520h1v1h-1zM163 520h1v1h-1zM164 520h1v1h-1zM165 519h1v1h-1zM166 519h1v1h-1zM167 519h1v1h-1zM168 519h1v1h-1zM169 518h1v1h-1zM170 518h1v1h-1zM171 518h1v1h-1zM172 518h1v1h-1zM173 519h1v1h-1zM174 519h1v1h-1zM175 519h1v1h-1zM176 520h1v1h-1zM177 521h1v1h-1zM178 521h1v1h-1zM179 522h1v1h-1zM180 521h1v1h-1zM181 520h1v1h-1zM182 519h1v1h-1zM183 518h1v1h-1zM184 518h1v1h-1zM185 519h1v1h-1zM186 519h1v1h-1zM187 519h1v1h-1zM188 518h1v1h-1zM189 517h1v1h-1zM190 517h1v1h-1zM191 516h1v1h-1zM192 517h1v1h-1zM193 518h1v1h-1zM194 518h1v1h-1zM195 519h1v1h-1zM196 520h1v1h-1zM197 520h1v1h-1zM198 521h1v1h-1zM199 521h1v1h-1zM200 521h1v1h-1zM201 520h1v1h-1zM202 520h1v1h-1zM203 520h1v1h-1zM204 521h1v2h-1zM205 523h1v2h-1zM206 525h1v2h-1zM207 527h1v1h-1zM208 527h1v1h-1zM209 526h1v1h-1zM210 526h1v1h-1zM211 526h1v1h-1zM212 525h1v1h-1zM213 524h1v1h-1zM214 524h1v1h-1zM215 523h1v1h-1zM216 522h1v1h-1zM217 521h1v1h-1zM218 520h1v1h-1zM219 519h1v1h-1zM220 520h1v1h-1zM221 520h1v1h-1zM222 521h1v1h-1zM223 521h1v1h-1zM224 522h1v2h-1zM225 524h1v1h-1zM226 525h1v2h-1zM227 527h1v1h-1zM228 526h1v1h-1zM229 526h1v1h-1zM230 525h1v1h-1zM231 525h1v1h-1zM232 525h1v1h-1zM233 525h1v1h-1zM234 525h1v1h-1zM235 525h1v1h-1zM236 524h1v1h-1zM237 524h1v1h-1zM238 523h1v1h-1zM239 523h1v1h-1zM240 521h1v2h-1zM241 519h1v2h-1zM242 517h1v2h-1zM243 515h1v2h-1zM244 517h1v2h-1zM245 519h1v2h-1zM246 521h1v2h-1zM247 523h1v2h-1zM248 525h1v2h-1zM249 527h1v1h-1zM250 528h1v2h-1zM251 530h1v1h-1zM252 530h1v1h-1zM253 529h1v1h-1zM254 529h1v1h-1zM255 529h1v1h-1zM256 529h1v1h-1zM257 529h1v1h-1zM258 529h1v1h-1zM259 529h1v1h-1zM260 529h1v1h-1zM261 529h1v1h-1zM262 529h1v1h-1zM263 529h1v1h-1zM264 529h1v1h-1zM265 529h1v1h-1zM266 529h1v1h-1zM267 529h1v1h-1zM268 529h1v1h-1zM269 530h1v1h-1zM270 530h1v1h-1zM271 530h1v1h-1zM272 529h1v1h-1zM273 527h1v2h-1zM274 526h1v1h-1zM275 525h1v1h-1zM276 525h1v1h-1zM277 524h1v1h-1zM278 524h1v1h-1zM279 524h1v1h-1zM280 524h1v1h-1zM281 523h1v1h-1zM282 523h1v1h-1zM283 523h1v1h-1zM284 524h1v1h-1zM285 525h1v1h-1zM286 525h1v1h-1zM287 526h1v1h-1zM288 526h1v1h-1zM289 526h1v1h-1zM290 526h1v1h-1zM291 526h1v1h-1zM292 526h1v1h-1zM293 527h1v1h-1zM294 527h1v1h-1zM295 527h1v1h-1zM296 527h1v1h-1zM297 527h1v1h-1zM298 527h1v1h-1zM299 527h1v1h-1zM300 526h1v1h-1zM301 524h1v2h-1zM302 523h1v1h-1zM303 522h1v1h-1zM304 523h1v1h-1zM305 523h1v1h-1zM306 524h1v1h-1zM307 524h1v1h-1zM308 523h1v1h-1zM309 522h1v1h-1zM310 522h1v1h-1zM311 521h1v1h-1zM312 521h1v1h-1zM313 521h1v1h-1zM314 521h1v1h-1zM315 521h1v1h-1zM316 522h1v2h-1zM317 524h1v2h-1zM318 526h1v2h-1zM319 528h1v1h-1zM320 529h1v1h-1zM321 529h1v1h-1zM322 530h1v1h-1zM323 530h1v1h-1zM324 530h1v1h-1zM325 530h1v1h-1zM326 530h1v1h-1zM327 530h1v1h-1zM328 529h1v1h-1zM329 528h1v1h-1zM330 527h1v1h-1zM331 526h1v1h-1zM332 527h1v2h-1zM333 529h1v1h-1zM334 530h1v2h-1zM335 532h1v1h-1zM336 531h1v1h-1zM337 531h1v1h-1zM338 530h1v1h-1zM339 530h1v1h-1zM340 531h1v1h-1zM341 532h1v1h-1zM342 532h1v1h-1zM343 533h1v1h-1zM344 533h1v1h-1zM345 534h1v1h-1zM346 534h1v1h-1zM347 534h1v1h-1zM348 534h1v1h-1zM349 535h1v1h-1zM350 535h1v1h-1zM351 535h1v1h-1zM352 536h1v1h-1zM353 536h1v1h-1zM354 537h1v1h-1zM355 537h1v1h-1zM356 536h1v1h-1zM357 535h1v1h-1zM358 534h1v1h-1zM359 533h1v1h-1zM360 532h1v1h-1zM361 531h1v1h-1zM362 530h1v1h-1zM363 529h1v1h-1zM364 529h1v1h-1zM365 530h1v1h-1zM366 530h1v1h-1zM367 530h1v1h-1zM368 531h1v1h-1zM369 531h1v1h-1zM370 532h1v1h-1zM371 532h1v1h-1zM372 533h1v1h-1zM373 533h1v1h-1zM374 534h1v1h-1zM375 534h1v1h-1zM376 534h1v1h-1zM377 534h1v1h-1zM378 534h1v1h-1zM379 534h1v1h-1zM380 534h1v1h-1zM381 535h1v1h-1zM382 535h1v1h-1zM383 535h1v1h-1zM384 536h1v1h-1zM385 537h1v1h-1zM386 537h1v1h-1zM387 537h1v2h-1zM388 535h1v2h-1zM389 533h1v2h-1zM390 531h1v2h-1zM391 529h1v2h-1zM392 528h1v1h-1zM393 526h1v2h-1zM394 525h1v1h-1zM395 524h1v1h-1zM396 523h1v1h-1zM397 523h1v1h-1zM398 522h1v1h-1zM399 522h1v1h-1zM400 522h1v1h-1zM401 521h1v1h-1zM402 521h1v1h-1zM403 521h1v1h-1zM404 522h1v1h-1zM405 523h1v1h-1zM406 524h1v1h-1zM407 525h1v1h-1zM408 526h1v1h-1zM409 527h1v1h-1zM410 527h1v1h-1zM411 528h1v1h-1zM412 528h1v1h-1zM413 527h1v1h-1zM414 527h1v1h-1zM415 527h1v1h-1zM416 527h1v1h-1zM417 528h1v1h-1zM418 528h1v1h-1zM419 528h1v1h-1zM420 527h1v1h-1zM421 526h1v1h-1zM422 526h1v1h-1zM423 525h1v1h-1zM424 524h1v1h-1zM425 524h1v1h-1zM426 523h1v1h-1zM427 523h1v1h-1zM428 524h1v2h-1zM429 526h1v2h-1zM430 528h1v2h-1zM431 530h1v2h-1zM432 532h1v1h-1zM433 533h1v1h-1zM434 534h1v1h-1zM435 535h1v1h-1zM436 534h1v1h-1zM437 532h1v2h-1zM438 531h1v1h-1zM439 530h1v1h-1zM440 530h1v1h-1zM441 530h1v1h-1zM442 530h1v1h-1zM443 530h1v1h-1zM444 529h1v1h-1zM445 529h1v1h-1zM446 528h1v1h-1zM447 528h1v1h-1zM448 529h1v1h-1zM449 529h1v1h-1zM450 530h1v1h-1zM451 530h1v1h-1zM452 530h1v1h-1zM453 531h1v1h-1zM454 531h1v1h-1zM455 531h1v1h-1zM456 530h1v1h-1zM457 529h1v1h-1zM458 528h1v1h-1zM459 527h1v1h-1zM460 527h1v1h-1zM461 528h1v1h-1zM462 528h1v1h-1zM463 528h1v1h-1zM464 529h1v2h-1zM465 531h1v1h-1zM466 532h1v2h-1zM467 534h1v1h-1zM468 533h1v1h-1zM469 533h1v1h-1zM470 532h1v1h-1zM471 532h1v1h-1zM472 532h1v1h-1zM473 533h1v1h-1zM474 533h1v1h-1zM475 533h1v1h-1zM476 533h1v1h-1zM477 534h1v1h-1zM478 534h1v1h-1zM479 534h1v2h-1zM480 536h1v2h-1zM481 538h1v2h-1zM482 540h1v2h-1zM483 542h1v2h-1zM484 542h1v1h-1zM485 540h1v2h-1zM486 539h1v1h-1zM487 538h1v1h-1zM488 538h1v1h-1zM489 537h1v1h-1zM490 537h1v1h-1zM491 537h1v1h-1zM492 538h1v1h-1zM493 538h1v1h-1zM494 539h1v1h-1zM495 539h1v1h-1zM496 539h1v1h-1zM497 540h1v1h-1zM498 540h1v1h-1zM499 540h1v1h-1zM500 540h1v1h-1zM501 540h1v1h-1zM502 540h1v1h-1zM503 540h1v1h-1zM504 539h1v1h-1zM505 537h1v2h-1zM506 536h1v1h-1zM507 535h1v1h-1zM508 535h1v1h-1zM509 536h1v1h-1zM510 536h1v1h-1zM511 536h1v1h-1zM512 535h1v1h-1zM513 533h1v2h-1zM514 532h1v1h-1zM515 531h1v1h-1zM516 532h1v1h-1zM517 532h1v1h-1zM518 533h1v1h-1zM519 533h1v1h-1zM520 533h1v1h-1zM521 532h1v1h-1zM522 532h1v1h-1zM523 532h1v1h-1zM524 533h1v1h-1zM525 533h1v1h-1zM526 534h1v1h-1zM527 534h1v1h-1zM528 534h1v1h-1zM529 533h1v1h-1zM530 533h1v1h-1zM531 533h1v1h-1zM532 533h1v1h-1zM533 532h1v1h-1zM534 532h1v1h-1zM535 532h1v1h-1zM536 533h1v1h-1zM537 533h1v1h-1zM538 534h1v1h-1zM539 534h1v1h-1zM540 534h1v1h-1zM541 535h1v1h-1zM542 535h1v1h-1zM543 535h1v1h-1zM544 534h1v1h-1zM545 532h1v2h-1zM546 531h1v1h-1zM547 530h1v1h-1zM548 531h1v1h-1zM549 531h1v1h-1zM550 532h1v1h-1zM551 532h1v1h-1zM552 533h1v1h-1zM553 534h1v1h-1zM554 534h1v1h-1zM555 535h1v1h-1zM556 535h1v1h-1zM557 535h1v1h-1zM558 535h1v1h-1zM559 535h1v1h-1zM560 534h1v1h-1zM561 533h1v1h-1zM562 532h1v1h-1zM563 531h1v1h-1zM564 532h1v1h-1zM565 533h1v1h-1zM566 534h1v1h-1zM567 535h1v1h-1zM568 535h1v1h-1zM569 534h1v1h-1zM570 534h1v1h-1zM571 534h1v1h-1zM572 533h1v1h-1zM573 532h1v1h-1zM574 531h1v1h-1zM575 530h1v1h-1zM576 530h1v1h-1zM577 531h1v1h-1zM578 531h1v1h-1zM579 531h1v1h-1zM580 531h1v1h-1zM581 530h1v1h-1zM582 530h1v1h-1zM583 530h1v1h-1zM584 530h1v1h-1zM585 529h1v1h-1zM586 529h1v1h-1zM587 529h1v1h-1zM588 529h1v1h-1zM589 530h1v1h-1zM590 530h1v1h-1zM591 530h1v1h-1zM592 529h1v1h-1zM593 528h1v1h-1zM594 528h1v1h-1zM595 527h1v1h-1zM596 528h1v1h-1zM597 529h1v2h-1zM598 531h1v1h-1zM599 532h1v1h-1zM600 533h1v1h-1zM601 534h1v1h-1zM602 535h1v1h-1zM603 536h1v1h-1zM604 536h1v1h-1zM605 535h1v1h-1zM606 535h1v1h-1zM607 535h1v1h-1zM608 535h1v1h-1zM609 534h1v1h-1zM610 534h1v1h-1zM611 534h1v1h-1zM612 534h1v1h-1zM613 533h1v1h-1zM614 533h1v1h-1zM615 533h1v1h-1zM616 533h1v1h-1zM617 533h1v1h-1zM618 533h1v1h-1zM619 533h1v1h-1zM620 534h1v1h-1zM621 535h1v1h-1zM622 535h1v1h-1zM623 536h1v1h-1zM624 537h1v1h-1zM625 538h1v2h-1zM626 540h1v1h-1zM627 540h1v2h-1zM628 537h1v3h-1zM629 535h1v2h-1zM630 532h1v3h-1zM631 530h1v2h-1zM632 530h1v1h-1zM633 530h1v1h-1zM634 530h1v1h-1zM635 530h1v1h-1zM636 530h1v1h-1zM637 530h1v1h-1zM638 530h1v1h-1zM639 530h1v1h-1zM640 530h1v1h-1zM641 531h1v1h-1zM642 531h1v1h-1zM643 531h1v1h-1zM644 530h1v1h-1zM645 530h1v1h-1zM646 529h1v1h-1zM647 529h1v1h-1zM648 529h1v1h-1zM649 529h1v1h-1zM650 529h1v1h-1zM651 529h1v1h-1zM652 528h1v1h-1zM653 527h1v1h-1zM654 527h1v1h-1zM655 526h1v1h-1zM656 526h1v1h-1zM657 527h1v1h-1zM658 527h1v1h-1zM659 527h1v1h-1zM660 528h1v1h-1zM661 528h1v1h-1zM662 529h1v1h-1zM663 529h1v1h-1zM664 529h1v1h-1zM665 529h1v1h-1zM666 529h1v1h-1zM667 529h1v1h-1zM668 529h1v1h-1zM669 530h1v1h-1zM670 530h1v1h-1zM671 530h1v1h-1zM672 530h1v1h-1zM673 530h1v1h-1zM674 530h1v1h-1zM675 530h1v1h-1zM676 530h1v1h-1zM677 531h1v1h-1zM678 531h1v1h-1zM679 531h1v1h-1zM680 531h1v1h-1zM681 531h1v1h-1zM682 531h1v1h-1zM683 531h1v1h-1zM684 532h1v1h-1zM685 532h1v1h-1zM686 533h1v1h-1zM687 533h1v1h-1zM688 532h1v1h-1zM689 531h1v1h-1zM690 530h1v1h-1zM691 529h1v1h-1zM692 530h1v1h-1zM693 531h1v2h-1zM694 533h1v1h-1zM695 534h1v1h-1zM696 533h1v1h-1zM697 532h1v1h-1zM698 531h1v1h-1zM699 530h1v1h-1zM700 530h1v1h-1zM701 529h1v1h-1zM702 529h1v1h-1zM703 529h1v1h-1zM704 529h1v1h-1zM705 528h1v1h-1zM706 528h1v1h-1zM707 528h1v1h-1zM708 526h1v2h-1zM709 524h1v2h-1zM710 522h1v2h-1zM711 521h1v1h-1zM712 522h1v1h-1zM713 523h1v1h-1zM714 524h1v1h-1zM715 525h1v1h-1zM716 526h1v1h-1zM717 526h1v1h-1zM718 527h1v1h-1zM719 527h1v1h-1zM720 527h1v1h-1zM721 528h1v1h-1zM722 528h1v1h-1zM723 528h1v1h-1zM724 529h1v2h-1zM725 531h1v1h-1zM726 532h1v2h-1zM727 534h1v1h-1zM728 534h1v1h-1zM729 534h1v1h-1zM730 534h1v1h-1zM731 534h1v1h-1zM732 535h1v1h-1zM733 535h1v1h-1zM734 536h1v1h-1zM735 536h1v1h-1zM736 537h1v1h-1zM737 537h1v1h-1zM738 538h1v1h-1zM739 538h1v1h-1zM740 537h1v1h-1zM741 535h1v2h-1zM742 534h1v1h-1zM743 533h1v1h-1zM744 534h1v1h-1zM745 535h1v1h-1zM746 535h1v1h-1zM747 536h1v1h-1zM748 536h1v1h-1zM749 537h1v1h-1zM750 537h1v1h-1zM751 537h1v1h-1zM752 538h1v1h-1zM753 538h1v1h-1zM754 539h1v1h-1zM755 539h1v1h-1zM756 540h1v1h-1zM757 541h1v1h-1zM758 541h1v1h-1zM759 542h1v1h-1zM760 542h1v1h-1zM761 542h1v1h-1zM762 542h1v1h-1zM763 542h1v1h-1zM764 541h1v1h-1zM765 540h1v1h-1zM766 540h1v1h-1zM767 538h1v2h-1zM768 534h1v4h-1zM769 531h1v3h-1zM770 527h1v4h-1zM771 525h1v2h-1zM772 525h1v1h-1zM773 524h1v1h-1zM774 524h1v1h-1zM775 524h1v1h-1zM776 524h1v1h-1zM777 524h1v1h-1zM778 524h1v1h-1zM779 524h1v1h-1zM780 524h1v1h-1zM781 525h1v1h-1zM782 525h1v1h-1zM783 525h1v1h-1zM784 526h1v1h-1zM785 527h1v1h-1zM786 528h1v1h-1zM787 529h1v1h-1zM788 530h1v1h-1zM789 530h1v1h-1zM790 531h1v1h-1zM791 531h1v1h-1zM792 530h1v1h-1zM793 529h1v1h-1zM794 528h1v1h-1zM795 527h1v1h-1zM796 527h1v1h-1zM797 528h1v1h-1zM798 528h1v1h-1zM799 528h1v1h-1zM800 527h1v1h-1zM801 526h1v1h-1zM802 526h1v1h-1zM803 525h1v1h-1zM804 526h1v1h-1zM805 526h1v1h-1zM806 527h1v1h-1zM807 527h1v1h-1zM808 527h1v1h-1zM809 527h1v1h-1zM810 527h1v1h-1zM811 527h1v1h-1zM812 526h1v1h-1zM813 526h1v1h-1zM814 525h1v1h-1zM815 525h1v1h-1zM816 526h1v1h-1zM817 527h1v2h-1zM818 529h1v1h-1zM819 530h1v1h-1zM820 531h1v2h-1zM821 533h1v1h-1zM822 534h1v2h-1zM823 536h1v1h-1zM824 537h1v1h-1zM825 537h1v1h-1zM826 538h1v1h-1zM827 538h1v1h-1zM828 538h1v1h-1zM829 537h1v1h-1zM830 537h1v1h-1zM831 537h1v1h-1zM832 538h1v1h-1zM833 538h1v1h-1zM834 539h1v1h-1zM835 539h1v1h-1zM836 539h1v1h-1zM837 538h1v1h-1zM838 538h1v1h-1zM839 538h1v1h-1zM840 538h1v1h-1zM841 539h1v1h-1zM842 539h1v1h-1zM843 539h1v1h-1zM844 540h1v1h-1zM845 541h1v1h-1zM846 541h1v1h-1zM847 542h1v1h-1zM848 541h1v1h-1zM849 539h1v2h-1zM850 538h1v1h-1zM851 537h1v1h-1zM852 538h1v1h-1zM853 539h1v1h-1zM854 539h1v1h-1zM855 540h1v1h-1zM856 540h1v1h-1zM857 539h1v1h-1zM858 539h1v1h-1zM859 539h1v1h-1zM860 538h1v1h-1zM861 537h1v1h-1zM862 537h1v1h-1zM863 536h1v1h-1zM864 535h1v1h-1zM865 535h1v1h-1zM866 534h1v1h-1zM867 534h1v1h-1zM868 534h1v1h-1zM869 534h1v1h-1zM870 534h1v1h-1zM871 534h1v1h-1zM872 533h1v1h-1zM873 533h1v1h-1zM874 532h1v1h-1zM875 532h1v1h-1zM876 532h1v1h-1zM877 533h1v1h-1zM878 533h1v1h-1zM879 533h1v1h-1zM880 533h1v1h-1zM881 533h1v1h-1zM882 533h1v1h-1zM883 533h1v1h-1zM884 533h1v1h-1zM885 534h1v1h-1zM886 534h1v1h-1zM887 534h1v1h-1zM888 533h1v1h-1zM889 533h1v1h-1zM890 532h1v1h-1zM891 531h1v2h-1zM892 527h1v4h-1zM893 524h1v3h-1zM894 520h1v4h-1zM895 518h1v2h-1zM896 516h1v2h-1zM897 514h1v2h-1zM898 512h1v2h-1zM899 511h1v1h-1zM900 512h1v1h-1zM901 513h1v1h-1zM902 514h1v1h-1zM903 515h1v1h-1zM904 516h1v2h-1zM905 518h1v2h-1zM906 520h1v2h-1zM907 522h1v1h-1zM908 522h1v1h-1zM909 522h1v1h-1zM910 522h1v1h-1zM911 522h1v1h-1zM912 521h1v1h-1zM913 521h1v1h-1zM914 520h1v1h-1zM915 520h1v1h-1zM916 520h1v1h-1zM917 520h1v1h-1zM918 520h1v1h-1zM919 520h1v1h-1zM920 520h1v1h-1zM921 519h1v1h-1zM922 519h1v1h-1zM923 519h1v1h-1z"/>
</g>
<text x="7.5" y="503.5" font-size="10.2" fill="#000" font-weight="400" text-anchor="start" textLength="67" lengthAdjust="spacingAndGlyphs" >RSI(14) 62.0847</text>
<g class="c">
<rect x="1166" y="492" width="2" height="1" fill="#000"/>
<rect x="1166" y="513" width="2" height="1" fill="#000"/>
<rect x="1166" y="542" width="2" height="1" fill="#000"/>
<rect x="1166" y="563" width="2" height="1" fill="#000"/>
</g>
<text x="1168.8" y="501.6" font-size="10.2" fill="#000" font-weight="400" text-anchor="start" textLength="15.8" lengthAdjust="spacingAndGlyphs" >100</text>
<text x="1168.2" y="517.6" font-size="10.2" fill="#000" font-weight="400" text-anchor="start" textLength="10.6" lengthAdjust="spacingAndGlyphs" >70</text>
<text x="1168.2" y="546.8" font-size="10.2" fill="#000" font-weight="400" text-anchor="start" textLength="10.6" lengthAdjust="spacingAndGlyphs" >30</text>
<text x="1168.8" y="561.6" font-size="10.2" fill="#000" font-weight="400" text-anchor="start" textLength="5.4" lengthAdjust="spacingAndGlyphs" >0</text>
<g class="c">
<rect x="3" y="565" width="1" height="2" fill="#000"/>
<rect x="67" y="565" width="1" height="2" fill="#000"/>
<rect x="131" y="565" width="1" height="2" fill="#000"/>
<rect x="195" y="565" width="1" height="2" fill="#000"/>
<rect x="259" y="565" width="1" height="2" fill="#000"/>
<rect x="323" y="565" width="1" height="2" fill="#000"/>
<rect x="387" y="565" width="1" height="2" fill="#000"/>
<rect x="451" y="565" width="1" height="2" fill="#000"/>
<rect x="515" y="565" width="1" height="2" fill="#000"/>
<rect x="579" y="565" width="1" height="2" fill="#000"/>
<rect x="643" y="565" width="1" height="2" fill="#000"/>
<rect x="707" y="565" width="1" height="2" fill="#000"/>
<rect x="771" y="565" width="1" height="2" fill="#000"/>
<rect x="835" y="565" width="1" height="2" fill="#000"/>
<rect x="899" y="565" width="1" height="2" fill="#000"/>
</g>
<text x="2" y="577.4" font-size="10" fill="#000" font-weight="400" text-anchor="start" textLength="49" lengthAdjust="spacingAndGlyphs" >4 May 2021</text>
<text x="66" y="577.4" font-size="10" fill="#000" font-weight="400" text-anchor="start" textLength="54.1" lengthAdjust="spacingAndGlyphs" >26 May 2021</text>
<text x="130" y="577.4" font-size="10" fill="#000" font-weight="400" text-anchor="start" textLength="48.3" lengthAdjust="spacingAndGlyphs" >17 Jun 2021</text>
<text x="194" y="577.4" font-size="10" fill="#000" font-weight="400" text-anchor="start" textLength="41.2" lengthAdjust="spacingAndGlyphs" >9 Jul 2021</text>
<text x="258" y="577.4" font-size="10" fill="#000" font-weight="400" text-anchor="start" textLength="47.4" lengthAdjust="spacingAndGlyphs" >2 Aug 2021</text>
<text x="322" y="577.4" font-size="10" fill="#000" font-weight="400" text-anchor="start" textLength="52" lengthAdjust="spacingAndGlyphs" >24 Aug 2021</text>
<text x="386" y="577.4" font-size="10" fill="#000" font-weight="400" text-anchor="start" textLength="51" lengthAdjust="spacingAndGlyphs" >15 Sep 2021</text>
<text x="450" y="577.4" font-size="10" fill="#000" font-weight="400" text-anchor="start" textLength="45.4" lengthAdjust="spacingAndGlyphs" >7 Oct 2021</text>
<text x="514" y="577.4" font-size="10" fill="#000" font-weight="400" text-anchor="start" textLength="51.4" lengthAdjust="spacingAndGlyphs" >29 Oct 2021</text>
<text x="578" y="577.4" font-size="10" fill="#000" font-weight="400" text-anchor="start" textLength="54" lengthAdjust="spacingAndGlyphs" >22 Nov 2021</text>
<text x="642" y="577.4" font-size="10" fill="#000" font-weight="400" text-anchor="start" textLength="51.9" lengthAdjust="spacingAndGlyphs" >14 Dec 2021</text>
<text x="706" y="577.4" font-size="10" fill="#000" font-weight="400" text-anchor="start" textLength="45.3" lengthAdjust="spacingAndGlyphs" >5 Jan 2022</text>
<text x="770" y="577.4" font-size="10" fill="#000" font-weight="400" text-anchor="start" textLength="49.3" lengthAdjust="spacingAndGlyphs" >27 Jan 2022</text>
<text x="834" y="577.4" font-size="10" fill="#000" font-weight="400" text-anchor="start" textLength="51.2" lengthAdjust="spacingAndGlyphs" >18 Feb 2022</text>
<text x="898" y="577.4" font-size="10" fill="#000" font-weight="400" text-anchor="start" textLength="51.3" lengthAdjust="spacingAndGlyphs" >14 Mar 2022</text>
<g class="c">
<rect x="0" y="585" width="1202" height="1" fill="#d9d9d9"/>
<rect x="0" y="587" width="1202" height="1" fill="#000"/>
<rect x="0" y="588" width="1202" height="18" fill="#f0f0f0"/>
<rect x="0" y="588" width="1202" height="1" fill="#ffffff"/>
<rect x="0" y="606" width="1202" height="5" fill="#f0f0f0"/>
<rect x="0" y="606" width="1202" height="1" fill="#fbfbfb"/>
<rect x="0" y="611" width="1202" height="1" fill="#a0a0a0"/>
<rect x="0" y="612" width="1202" height="1" fill="#ffffff"/>
<rect x="536" y="587" width="112" height="19" fill="#000"/>
<rect x="537" y="586" width="110" height="19" fill="#fff"/>
<rect x="104" y="590" width="1" height="14" fill="#606060"/>
<rect x="212" y="590" width="1" height="14" fill="#606060"/>
<rect x="320" y="590" width="1" height="14" fill="#606060"/>
<rect x="428" y="590" width="1" height="14" fill="#606060"/>
<rect x="744" y="590" width="1" height="14" fill="#606060"/>
<rect x="832" y="590" width="1" height="14" fill="#606060"/>
<rect x="920" y="590" width="1" height="14" fill="#606060"/>
<rect x="1004" y="590" width="1" height="14" fill="#606060"/>
<rect x="1084" y="590" width="1" height="14" fill="#606060"/>
<rect x="1172" y="590" width="1" height="14" fill="#606060"/>
</g>
<text x="15.5" y="601.7" font-size="13" fill="#6d6d6d" font-weight="400" text-anchor="start" textLength="77.3" lengthAdjust="spacingAndGlyphs" >USDX,Weekly</text>
<text x="115.3" y="601.7" font-size="13" fill="#6d6d6d" font-weight="400" text-anchor="start" textLength="84.4" lengthAdjust="spacingAndGlyphs" >EURUSD-,Daily</text>
<text x="222" y="601.7" font-size="13" fill="#6d6d6d" font-weight="400" text-anchor="start" textLength="84" lengthAdjust="spacingAndGlyphs" >AUDUSD-,Daily</text>
<text x="332.4" y="601.7" font-size="13" fill="#6d6d6d" font-weight="400" text-anchor="start" textLength="83.6" lengthAdjust="spacingAndGlyphs" >USDCHF-,Daily</text>
<text x="439.3" y="601.7" font-size="13" fill="#6d6d6d" font-weight="400" text-anchor="start" textLength="85.7" lengthAdjust="spacingAndGlyphs" >USDCAD-,Daily</text>
<text x="659" y="601.7" font-size="13" fill="#6d6d6d" font-weight="400" text-anchor="start" textLength="73" lengthAdjust="spacingAndGlyphs" >XAUUSD-,H1</text>
<text x="754.7" y="601.7" font-size="13" fill="#6d6d6d" font-weight="400" text-anchor="start" textLength="66.3" lengthAdjust="spacingAndGlyphs" >UKOil-,M15</text>
<text x="844" y="601.7" font-size="13" fill="#6d6d6d" font-weight="400" text-anchor="start" textLength="64.8" lengthAdjust="spacingAndGlyphs" >DJ30-,Daily</text>
<text x="931.4" y="601.7" font-size="13" fill="#6d6d6d" font-weight="400" text-anchor="start" textLength="61.6" lengthAdjust="spacingAndGlyphs" >UK100-,H1</text>
<text x="1016" y="601.7" font-size="13" fill="#6d6d6d" font-weight="400" text-anchor="start" textLength="56" lengthAdjust="spacingAndGlyphs" >USOil-,H4</text>
<text x="1094.7" y="601.7" font-size="13" fill="#6d6d6d" font-weight="400" text-anchor="start" textLength="66.6" lengthAdjust="spacingAndGlyphs" >HK50-,Daily</text>
<text x="548.3" y="601.7" font-size="13" fill="#000" font-weight="400" text-anchor="start" textLength="87.7" lengthAdjust="spacingAndGlyphs" >USDCNH-,Daily</text>
<path d="M1180.5 596 L1184 592.5 L1184 599.5 Z" fill="#8a8a8a"/>
<path d="M1199.5 592.5 L1203 596 L1199.5 599.5 Z" fill="#8a8a8a"/>
</svg></body></html>
